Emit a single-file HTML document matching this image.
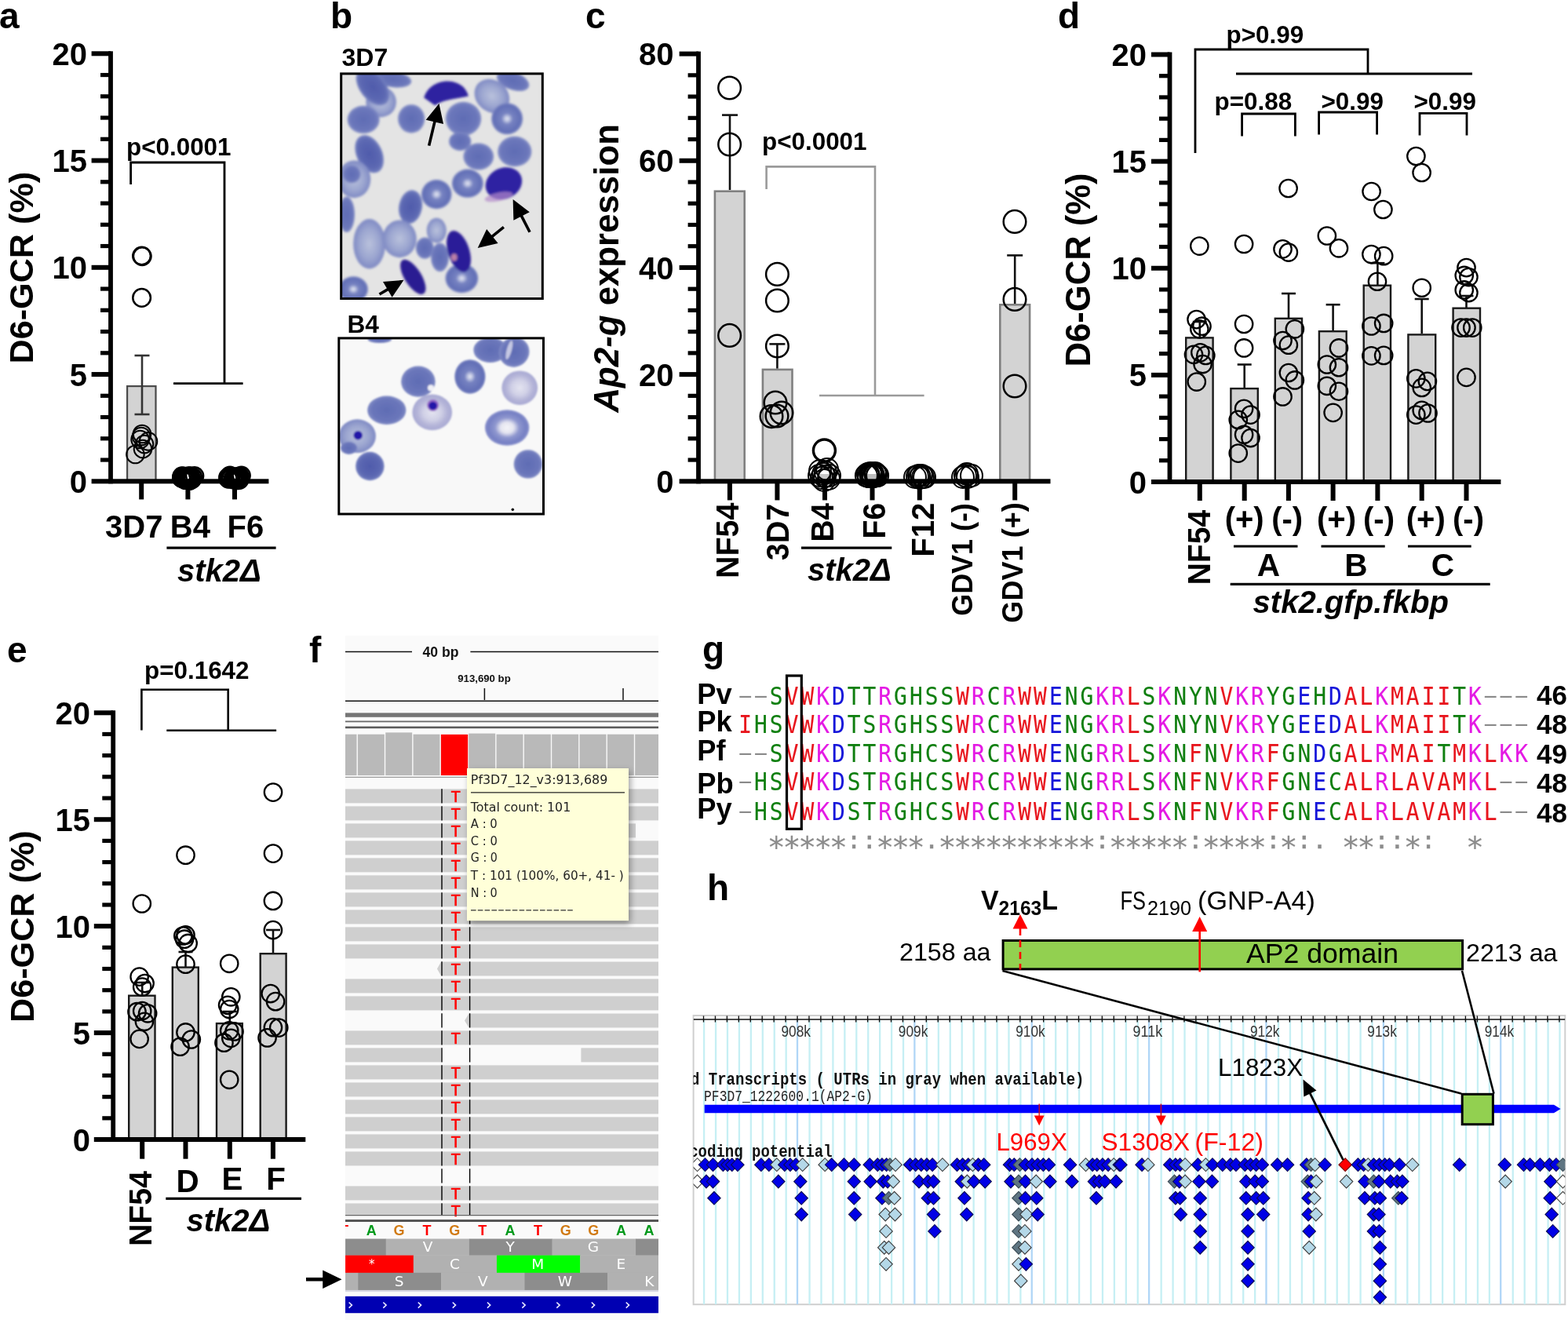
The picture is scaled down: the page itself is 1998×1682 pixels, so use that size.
<!DOCTYPE html>
<html><head><meta charset="utf-8"><title>Figure</title>
<style>html,body{margin:0;padding:0;background:#fff;overflow:hidden;width:1998px;height:1682px}svg{display:block}text{white-space:pre}</style></head><body>
<svg width="1998" height="1682" viewBox="0 0 1998 1682">
<rect width="1998" height="1682" fill="#fff"/>
<defs>
<filter id="bl1" x="-20%" y="-20%" width="140%" height="140%"><feGaussianBlur stdDeviation="1.4"/></filter>
<filter id="bl2" x="-20%" y="-20%" width="140%" height="140%"><feGaussianBlur stdDeviation="1.3"/></filter>
<clipPath id="cp1"><rect x="434.7" y="93.9" width="256.6" height="286.6"/></clipPath>
<clipPath id="cp2"><rect x="431.8" y="430.9" width="260.7" height="224.1"/></clipPath>
<radialGradient id="gRing"><stop offset="0" stop-color="#e8eaf4"/><stop offset="0.14" stop-color="#c2c8e3"/><stop offset="0.36" stop-color="#7682c1"/><stop offset="0.85" stop-color="#626fb6"/><stop offset="1" stop-color="#7a85c2"/></radialGradient>
<radialGradient id="gRing2"><stop offset="0" stop-color="#f4f4f8"/><stop offset="0.3" stop-color="#e4e4f0"/><stop offset="0.55" stop-color="#8f97cf"/><stop offset="0.85" stop-color="#7680c4"/><stop offset="1" stop-color="#8890cc"/></radialGradient>
<radialGradient id="gPale"><stop offset="0" stop-color="#e4e4f0"/><stop offset="0.45" stop-color="#d0d0e6"/><stop offset="0.75" stop-color="#b4b4d8"/><stop offset="1" stop-color="#a8a9d3"/></radialGradient>
<radialGradient id="gSolid"><stop offset="0" stop-color="#5f6cb4"/><stop offset="0.75" stop-color="#6a76ba"/><stop offset="1" stop-color="#7e89c4"/></radialGradient>
<radialGradient id="gSolidD"><stop offset="0" stop-color="#4f5bab"/><stop offset="0.75" stop-color="#5c68b2"/><stop offset="1" stop-color="#7480c0"/></radialGradient>
<radialGradient id="gLight"><stop offset="0" stop-color="#b9c1dc"/><stop offset="0.6" stop-color="#9ca6d0"/><stop offset="1" stop-color="#7f8ac4"/></radialGradient>
<radialGradient id="gGam"><stop offset="0" stop-color="#3a1f86"/><stop offset="0.6" stop-color="#2f22a2"/><stop offset="1" stop-color="#3a2fb0"/></radialGradient>
</defs>
<text font-family='"Liberation Sans", Arial, sans-serif' font-size="32" font-weight="bold" x="435.5" y="84">3D7</text>
<rect x="433.2" y="92.4" width="259.6" height="289.6" fill="#e4e4e4"/>
<g clip-path="url(#cp1)"><g filter="url(#bl1)">
<ellipse cx="500.6" cy="101" rx="23.82" ry="10.21" fill="url(#gSolid)" transform="rotate(8 500.6 101)"/>
<ellipse cx="653.64" cy="103.14" rx="21.55" ry="11.34" fill="url(#gSolid)" transform="rotate(20 653.64 103.14)"/>
<ellipse cx="485.62" cy="129.9" rx="19.29" ry="19.29" fill="url(#gLight)" transform="rotate(-30 485.62 129.9)"/>
<ellipse cx="474.91" cy="110.63" rx="16.34" ry="27.23" fill="url(#gSolidD)" transform="rotate(-38 474.91 110.63)"/>
<ellipse cx="626.88" cy="122.41" rx="23.82" ry="19.97" fill="url(#gLight)" transform="rotate(40 626.88 122.41)"/>
<ellipse cx="463.14" cy="152.37" rx="20.42" ry="17.7" fill="url(#gSolid)"/>
<ellipse cx="524.14" cy="151.3" rx="17.02" ry="18.15" fill="url(#gSolid)"/>
<ellipse cx="590.5" cy="151.3" rx="22.69" ry="21.55" fill="url(#gSolid)"/>
<ellipse cx="646.15" cy="151.3" rx="19.97" ry="19.97" fill="url(#gRing)"/>
<ellipse cx="470.63" cy="196.25" rx="16.34" ry="25.41" fill="url(#gSolidD)" transform="rotate(-25 470.63 196.25)"/>
<ellipse cx="586.22" cy="180.2" rx="14.07" ry="11.8" fill="url(#gSolid)"/>
<ellipse cx="609.76" cy="199.46" rx="19.29" ry="17.02" fill="url(#gSolid)"/>
<ellipse cx="655.78" cy="193.04" rx="21.55" ry="19.29" fill="url(#gSolid)"/>
<ellipse cx="451.37" cy="228.36" rx="20.87" ry="23.82" fill="url(#gLight)"/>
<ellipse cx="448.16" cy="221.93" rx="11.34" ry="11.34" fill="url(#gSolid)"/>
<ellipse cx="595.85" cy="233.71" rx="19.97" ry="18.15" fill="url(#gRing)"/>
<ellipse cx="556.25" cy="247.62" rx="19.29" ry="18.6" fill="url(#gRing)"/>
<ellipse cx="523.07" cy="263.67" rx="14.75" ry="21.55" fill="url(#gSolidD)" transform="rotate(10 523.07 263.67)"/>
<ellipse cx="441.74" cy="273.3" rx="10.21" ry="22.69" fill="url(#gSolid)"/>
<ellipse cx="470.63" cy="310.76" rx="20.42" ry="31.76" fill="url(#gLight)"/>
<ellipse cx="509.16" cy="304.34" rx="21.55" ry="23.82" fill="url(#gLight)"/>
<ellipse cx="556.25" cy="293.64" rx="12.48" ry="15.88" fill="url(#gLight)"/>
<ellipse cx="541.27" cy="316.11" rx="11.34" ry="13.61" fill="url(#gSolid)"/>
<ellipse cx="560.53" cy="327.89" rx="11.34" ry="18.15" fill="url(#gSolid)"/>
<ellipse cx="588.36" cy="354.64" rx="20.87" ry="18.6" fill="url(#gRing)"/>
<ellipse cx="450.3" cy="368.55" rx="18.6" ry="16.34" fill="url(#gRing)"/>
<path d="M540.2 124.55 C547.69 97.79 590.5 95.65 596.92 122.41 C584.08 125.62 566.95 125.62 554.11 134.18 Z" fill="#2e22a0"/>
<ellipse cx="641.87" cy="233.71" rx="23.97" ry="19.69" fill="#2f23a2" transform="rotate(-25 641.87 233.71)"/>
<ellipse cx="635.45" cy="250.83" rx="18.19" ry="5.35" fill="#b48acb" transform="rotate(-12 635.45 250.83)" opacity="0.7"/>
<ellipse cx="584.5" cy="320.39" rx="13.7" ry="27.4" fill="#2c1f98" transform="rotate(-18 584.5 320.39)"/>
<ellipse cx="578.72" cy="327.89" rx="3.85" ry="4.71" fill="#c98aa8" opacity="0.9"/>
<ellipse cx="526.28" cy="352.93" rx="10.7" ry="25.26" fill="#2a1c92" transform="rotate(-32 526.28 352.93)"/>
</g></g>
<rect x="434.7" y="93.9" width="256.6" height="286.6" fill="none" stroke="#000" stroke-width="3"/>
<line x1="546.62" y1="185.55" x2="554.33" y2="153.43" stroke="#000" stroke-width="3.6"/>
<polygon points="559.46,132.04 565.04,158.06 542.68,152.69" fill="#000"/>
<line x1="675.04" y1="295.78" x2="663.68" y2="273.62" stroke="#000" stroke-width="3.6"/>
<polygon points="653.64,254.04 674.82,270.15 654.36,280.64" fill="#000"/>
<line x1="641.87" y1="289.36" x2="625.82" y2="302.3" stroke="#000" stroke-width="3.6"/>
<polygon points="608.69,316.11 620.15,292.1 634.59,310" fill="#000"/>
<line x1="483.48" y1="374.97" x2="495.53" y2="367.91" stroke="#000" stroke-width="3.6"/>
<polygon points="514.51,356.78 499.62,378.84 487.99,359" fill="#000"/>
<text font-family='"Liberation Sans", Arial, sans-serif' font-size="31.6" font-weight="bold" x="442.5" y="423.8">B4</text>
<rect x="430.3" y="429.4" width="263.7" height="227.1" fill="#f8f8f8"/>
<g clip-path="url(#cp2)"><g filter="url(#bl2)">
<ellipse cx="483.84" cy="432.62" rx="15.16" ry="4.46" fill="url(#gSolid)"/>
<ellipse cx="624.76" cy="446" rx="21.41" ry="16.05" fill="url(#gSolid)"/>
<ellipse cx="655.08" cy="448.68" rx="19.62" ry="18.73" fill="url(#gSolid)" transform="rotate(-30 655.08 448.68)"/>
<ellipse cx="532.89" cy="486.14" rx="21.76" ry="19.62" fill="url(#gSolid)"/>
<ellipse cx="598.89" cy="479.89" rx="19.62" ry="21.76" fill="url(#gRing)"/>
<ellipse cx="662.22" cy="494.16" rx="22.83" ry="21.76" fill="url(#gPale)"/>
<ellipse cx="492.76" cy="522.7" rx="24.62" ry="18.19" fill="url(#gSolid)"/>
<ellipse cx="550.73" cy="525.38" rx="25.33" ry="22.83" fill="url(#gPale)"/>
<ellipse cx="646.16" cy="545" rx="28.18" ry="22.83" fill="url(#gRing2)"/>
<ellipse cx="455.3" cy="555.7" rx="23.55" ry="21.41" fill="url(#gLight)"/>
<ellipse cx="444.6" cy="570.87" rx="10.7" ry="8.03" fill="url(#gSolid)"/>
<ellipse cx="471.35" cy="594.06" rx="18.19" ry="18.19" fill="url(#gSolidD)"/>
<ellipse cx="672.92" cy="591.38" rx="18.19" ry="18.19" fill="url(#gSolid)"/>
<ellipse cx="648.84" cy="446" rx="3.21" ry="12.49" fill="#cfd2e8" transform="rotate(15 648.84 446)" opacity="0.9"/>
<ellipse cx="551.62" cy="516.46" rx="7.49" ry="7.49" fill="#8a4fc0" opacity="0.8"/>
<ellipse cx="551.62" cy="517" rx="5.35" ry="5.35" fill="#2416a8"/>
<ellipse cx="456.19" cy="554.81" rx="5.71" ry="5.71" fill="#2416a8"/>
<ellipse cx="548.95" cy="494.16" rx="3.92" ry="3.92" fill="#f0f0f6"/>
</g>
<ellipse cx="653.3" cy="649.35" rx="1.78" ry="1.78" fill="#111"/>
</g>
<rect x="431.8" y="430.9" width="260.7" height="224.1" fill="none" stroke="#000" stroke-width="3"/>
<text font-family='"Liberation Sans", Arial, sans-serif' font-size="46" font-weight="bold" x="421" y="35.5">b</text>
<g id="pf">
<defs><clipPath id="cpf"><rect x="440" y="808" width="399" height="874"/></clipPath>
<filter id="sh" x="-10%" y="-10%" width="125%" height="125%"><feGaussianBlur stdDeviation="4"/></filter></defs>
<rect x="440" y="810" width="399" height="872" fill="#fafafa"/>
<g clip-path="url(#cpf)">
<line x1="440" y1="830.5" x2="525" y2="830.5" stroke="#111" stroke-width="1.6"/>
<line x1="599.4" y1="830.5" x2="839" y2="830.5" stroke="#111" stroke-width="1.6"/>
<text font-family='"Liberation Sans", Arial, sans-serif' font-size="17.6" font-weight="bold" text-anchor="middle" fill="#111" x="561.5" y="837.3">40 bp</text>
<text font-family='"Liberation Sans", Arial, sans-serif' font-size="13.2" font-weight="bold" text-anchor="middle" fill="#111" x="617" y="869.2">913,690 bp</text>
<line x1="617.4" y1="877" x2="617.4" y2="892" stroke="#111" stroke-width="1.5"/>
<line x1="794" y1="877" x2="794" y2="892" stroke="#111" stroke-width="1.5"/>
<line x1="440" y1="893.2" x2="839" y2="893.2" stroke="#111" stroke-width="1.6"/>
<rect x="440" y="908.4" width="399" height="5.4" fill="#757575"/>
<rect x="440" y="918.5" width="399" height="1.8" fill="#6a6a6a"/>
<rect x="440" y="925.6" width="399" height="2.6" fill="#5a5a5a"/>
<rect x="385.25" y="935.7" width="33.93" height="52.3" fill="#b9b9b9"/>
<rect x="420.58" y="935.7" width="33.93" height="52.3" fill="#b9b9b9"/>
<rect x="455.91" y="935.7" width="33.93" height="52.3" fill="#b9b9b9"/>
<rect x="491.24" y="933.4" width="33.93" height="54.6" fill="#b9b9b9"/>
<rect x="526.57" y="935.7" width="33.93" height="52.3" fill="#b9b9b9"/>
<rect x="561.9" y="935.9" width="34.3" height="52.1" fill="#ff0000"/>
<rect x="597.23" y="934.6" width="33.93" height="53.4" fill="#b9b9b9"/>
<rect x="632.56" y="935.7" width="33.93" height="52.3" fill="#b9b9b9"/>
<rect x="667.89" y="935.7" width="33.93" height="52.3" fill="#b9b9b9"/>
<rect x="703.22" y="935.7" width="33.93" height="52.3" fill="#b9b9b9"/>
<rect x="738.55" y="935.7" width="33.93" height="52.3" fill="#b9b9b9"/>
<rect x="773.88" y="935.7" width="33.93" height="52.3" fill="#b9b9b9"/>
<rect x="809.21" y="935.7" width="33.93" height="52.3" fill="#b9b9b9"/>
<line x1="440" y1="990.4" x2="839" y2="990.4" stroke="#9a9a9a" stroke-width="1.4"/>
<rect x="440" y="1005.4" width="399" height="18" fill="#cfcfcf"/>
<text font-family='"Liberation Sans", Arial, sans-serif' font-size="19.5" font-weight="normal" text-anchor="middle" fill="#ff0000" x="580.8" y="1021.8" stroke="#ff0000" stroke-width="0.7">T</text>
<rect x="440" y="1027.4" width="399" height="18" fill="#cfcfcf"/>
<text font-family='"Liberation Sans", Arial, sans-serif' font-size="19.5" font-weight="normal" text-anchor="middle" fill="#ff0000" x="580.8" y="1043.8" stroke="#ff0000" stroke-width="0.7">T</text>
<rect x="440" y="1049.4" width="370" height="18" fill="#cfcfcf"/>
<text font-family='"Liberation Sans", Arial, sans-serif' font-size="19.5" font-weight="normal" text-anchor="middle" fill="#ff0000" x="580.8" y="1065.8" stroke="#ff0000" stroke-width="0.7">T</text>
<rect x="440" y="1071.4" width="399" height="18" fill="#cfcfcf"/>
<text font-family='"Liberation Sans", Arial, sans-serif' font-size="19.5" font-weight="normal" text-anchor="middle" fill="#ff0000" x="580.8" y="1087.8" stroke="#ff0000" stroke-width="0.7">T</text>
<rect x="440" y="1093.4" width="399" height="18" fill="#cfcfcf"/>
<text font-family='"Liberation Sans", Arial, sans-serif' font-size="19.5" font-weight="normal" text-anchor="middle" fill="#ff0000" x="580.8" y="1109.8" stroke="#ff0000" stroke-width="0.7">T</text>
<rect x="440" y="1115.4" width="399" height="18" fill="#cfcfcf"/>
<text font-family='"Liberation Sans", Arial, sans-serif' font-size="19.5" font-weight="normal" text-anchor="middle" fill="#ff0000" x="580.8" y="1131.8" stroke="#ff0000" stroke-width="0.7">T</text>
<rect x="440" y="1137.4" width="399" height="18" fill="#cfcfcf"/>
<text font-family='"Liberation Sans", Arial, sans-serif' font-size="19.5" font-weight="normal" text-anchor="middle" fill="#ff0000" x="580.8" y="1153.8" stroke="#ff0000" stroke-width="0.7">T</text>
<rect x="440" y="1159.4" width="399" height="18" fill="#cfcfcf"/>
<text font-family='"Liberation Sans", Arial, sans-serif' font-size="19.5" font-weight="normal" text-anchor="middle" fill="#ff0000" x="580.8" y="1175.8" stroke="#ff0000" stroke-width="0.7">T</text>
<rect x="440" y="1181.4" width="399" height="18" fill="#cfcfcf"/>
<text font-family='"Liberation Sans", Arial, sans-serif' font-size="19.5" font-weight="normal" text-anchor="middle" fill="#ff0000" x="580.8" y="1197.8" stroke="#ff0000" stroke-width="0.7">T</text>
<rect x="440" y="1203.4" width="399" height="18" fill="#cfcfcf"/>
<text font-family='"Liberation Sans", Arial, sans-serif' font-size="19.5" font-weight="normal" text-anchor="middle" fill="#ff0000" x="580.8" y="1219.8" stroke="#ff0000" stroke-width="0.7">T</text>
<polygon points="557,1234.4 562,1225.4 839,1225.4 839,1243.4 562,1243.4" fill="#cfcfcf"/>
<text font-family='"Liberation Sans", Arial, sans-serif' font-size="19.5" font-weight="normal" text-anchor="middle" fill="#ff0000" x="580.8" y="1241.8" stroke="#ff0000" stroke-width="0.7">T</text>
<rect x="440" y="1247.4" width="399" height="18" fill="#cfcfcf"/>
<text font-family='"Liberation Sans", Arial, sans-serif' font-size="19.5" font-weight="normal" text-anchor="middle" fill="#ff0000" x="580.8" y="1263.8" stroke="#ff0000" stroke-width="0.7">T</text>
<rect x="440" y="1269.4" width="399" height="18" fill="#cfcfcf"/>
<text font-family='"Liberation Sans", Arial, sans-serif' font-size="19.5" font-weight="normal" text-anchor="middle" fill="#ff0000" x="580.8" y="1285.8" stroke="#ff0000" stroke-width="0.7">T</text>
<polygon points="592,1300.4 597.5,1291.4 839,1291.4 839,1309.4 597.5,1309.4" fill="#cfcfcf"/>
<rect x="440" y="1313.4" width="399" height="18" fill="#cfcfcf"/>
<text font-family='"Liberation Sans", Arial, sans-serif' font-size="19.5" font-weight="normal" text-anchor="middle" fill="#ff0000" x="580.8" y="1329.8" stroke="#ff0000" stroke-width="0.7">T</text>
<rect x="440" y="1335.4" width="122" height="18" fill="#cfcfcf"/>
<rect x="740.4" y="1335.4" width="98.6" height="18" fill="#cfcfcf"/>
<rect x="440" y="1357.4" width="399" height="18" fill="#cfcfcf"/>
<text font-family='"Liberation Sans", Arial, sans-serif' font-size="19.5" font-weight="normal" text-anchor="middle" fill="#ff0000" x="580.8" y="1373.8" stroke="#ff0000" stroke-width="0.7">T</text>
<rect x="440" y="1379.4" width="399" height="18" fill="#cfcfcf"/>
<text font-family='"Liberation Sans", Arial, sans-serif' font-size="19.5" font-weight="normal" text-anchor="middle" fill="#ff0000" x="580.8" y="1395.8" stroke="#ff0000" stroke-width="0.7">T</text>
<rect x="440" y="1401.4" width="399" height="18" fill="#cfcfcf"/>
<text font-family='"Liberation Sans", Arial, sans-serif' font-size="19.5" font-weight="normal" text-anchor="middle" fill="#ff0000" x="580.8" y="1417.8" stroke="#ff0000" stroke-width="0.7">T</text>
<rect x="440" y="1423.4" width="399" height="18" fill="#cfcfcf"/>
<text font-family='"Liberation Sans", Arial, sans-serif' font-size="19.5" font-weight="normal" text-anchor="middle" fill="#ff0000" x="580.8" y="1439.8" stroke="#ff0000" stroke-width="0.7">T</text>
<rect x="440" y="1445.4" width="399" height="18" fill="#cfcfcf"/>
<text font-family='"Liberation Sans", Arial, sans-serif' font-size="19.5" font-weight="normal" text-anchor="middle" fill="#ff0000" x="580.8" y="1461.8" stroke="#ff0000" stroke-width="0.7">T</text>
<rect x="440" y="1467.4" width="399" height="18" fill="#cfcfcf"/>
<text font-family='"Liberation Sans", Arial, sans-serif' font-size="19.5" font-weight="normal" text-anchor="middle" fill="#ff0000" x="580.8" y="1483.8" stroke="#ff0000" stroke-width="0.7">T</text>
<rect x="440" y="1511.4" width="399" height="18" fill="#cfcfcf"/>
<text font-family='"Liberation Sans", Arial, sans-serif' font-size="19.5" font-weight="normal" text-anchor="middle" fill="#ff0000" x="580.8" y="1527.8" stroke="#ff0000" stroke-width="0.7">T</text>
<rect x="440" y="1533.4" width="399" height="14.6" fill="#cfcfcf"/>
<text font-family='"Liberation Sans", Arial, sans-serif' font-size="19.5" font-weight="normal" text-anchor="middle" fill="#ff0000" x="580.8" y="1549.8" stroke="#ff0000" stroke-width="0.7">T</text>
<line x1="563" y1="1005.2" x2="563" y2="1548" stroke="#000" stroke-width="1.4" stroke-dasharray="18.4 3.6"/>
<line x1="598.6" y1="1005.2" x2="598.6" y2="1548" stroke="#000" stroke-width="1.4" stroke-dasharray="18.4 3.6"/>
<line x1="440" y1="1548.6" x2="839" y2="1548.6" stroke="#666" stroke-width="1.4"/>
<rect x="440" y="1554" width="399" height="3" fill="#555"/>
<text font-family='"Liberation Sans", Arial, sans-serif' font-size="18" font-weight="bold" text-anchor="middle" fill="#ff0000" x="438.5" y="1574.2">T</text>
<text font-family='"Liberation Sans", Arial, sans-serif' font-size="18" font-weight="bold" text-anchor="middle" fill="#00991a" x="473.2" y="1574.2">A</text>
<text font-family='"Liberation Sans", Arial, sans-serif' font-size="18" font-weight="bold" text-anchor="middle" fill="#d17a12" x="508.58" y="1574.2">G</text>
<text font-family='"Liberation Sans", Arial, sans-serif' font-size="18" font-weight="bold" text-anchor="middle" fill="#ff0000" x="543.96" y="1574.2">T</text>
<text font-family='"Liberation Sans", Arial, sans-serif' font-size="18" font-weight="bold" text-anchor="middle" fill="#d17a12" x="579.34" y="1574.2">G</text>
<text font-family='"Liberation Sans", Arial, sans-serif' font-size="18" font-weight="bold" text-anchor="middle" fill="#ff0000" x="614.72" y="1574.2">T</text>
<text font-family='"Liberation Sans", Arial, sans-serif' font-size="18" font-weight="bold" text-anchor="middle" fill="#00991a" x="650.1" y="1574.2">A</text>
<text font-family='"Liberation Sans", Arial, sans-serif' font-size="18" font-weight="bold" text-anchor="middle" fill="#ff0000" x="685.48" y="1574.2">T</text>
<text font-family='"Liberation Sans", Arial, sans-serif' font-size="18" font-weight="bold" text-anchor="middle" fill="#d17a12" x="720.86" y="1574.2">G</text>
<text font-family='"Liberation Sans", Arial, sans-serif' font-size="18" font-weight="bold" text-anchor="middle" fill="#d17a12" x="756.24" y="1574.2">G</text>
<text font-family='"Liberation Sans", Arial, sans-serif' font-size="18" font-weight="bold" text-anchor="middle" fill="#00991a" x="791.62" y="1574.2">A</text>
<text font-family='"Liberation Sans", Arial, sans-serif' font-size="18" font-weight="bold" text-anchor="middle" fill="#00991a" x="827" y="1574.2">A</text>
<rect x="440.06" y="1578.5" width="51.95" height="21.4" fill="#8d8d8d"/>
<rect x="491.71" y="1578.5" width="106.49" height="21.4" fill="#b1b1b1"/>
<rect x="597.9" y="1578.5" width="106.01" height="21.4" fill="#8d8d8d"/>
<rect x="703.6" y="1578.5" width="106.73" height="21.4" fill="#b1b1b1"/>
<rect x="810.03" y="1578.5" width="29.13" height="21.4" fill="#8d8d8d"/>
<text font-family='"DejaVu Sans", "Liberation Sans", sans-serif' font-size="18.5" font-weight="normal" text-anchor="middle" fill="#fff" x="545.05" y="1595">V</text>
<text font-family='"DejaVu Sans", "Liberation Sans", sans-serif' font-size="18.5" font-weight="normal" text-anchor="middle" fill="#fff" x="650.27" y="1595">Y</text>
<text font-family='"DejaVu Sans", "Liberation Sans", sans-serif' font-size="18.5" font-weight="normal" text-anchor="middle" fill="#fff" x="755.98" y="1595">G</text>
<rect x="440.06" y="1599.6" width="87.03" height="22.5" fill="#ff0000"/>
<rect x="526.79" y="1599.6" width="106.49" height="22.5" fill="#b1b1b1"/>
<rect x="632.97" y="1599.6" width="106.49" height="22.5" fill="#00ff00"/>
<rect x="739.16" y="1599.6" width="100" height="22.5" fill="#b1b1b1"/>
<text font-family='"DejaVu Sans", "Liberation Sans", sans-serif' font-size="15" font-weight="normal" text-anchor="middle" fill="#fff" x="473.69" y="1616.3">*</text>
<text font-family='"DejaVu Sans", "Liberation Sans", sans-serif' font-size="18.5" font-weight="normal" text-anchor="middle" fill="#fff" x="579.4" y="1617.2">C</text>
<text font-family='"DejaVu Sans", "Liberation Sans", sans-serif' font-size="18.5" font-weight="normal" text-anchor="middle" fill="#fff" x="685.11" y="1617.2">M</text>
<text font-family='"DejaVu Sans", "Liberation Sans", sans-serif' font-size="18.5" font-weight="normal" text-anchor="middle" fill="#fff" x="791.29" y="1617.2">E</text>
<rect x="440.06" y="1621.8" width="16.4" height="22.4" fill="#b1b1b1"/>
<rect x="456.16" y="1621.8" width="106.25" height="22.4" fill="#8d8d8d"/>
<rect x="562.1" y="1621.8" width="106.49" height="22.4" fill="#b1b1b1"/>
<rect x="668.29" y="1621.8" width="106.01" height="22.4" fill="#8d8d8d"/>
<rect x="773.99" y="1621.8" width="65.16" height="22.4" fill="#b1b1b1"/>
<text font-family='"DejaVu Sans", "Liberation Sans", sans-serif' font-size="18.5" font-weight="normal" text-anchor="middle" fill="#fff" x="508.53" y="1639.3">S</text>
<text font-family='"DejaVu Sans", "Liberation Sans", sans-serif' font-size="18.5" font-weight="normal" text-anchor="middle" fill="#fff" x="615.44" y="1639.3">V</text>
<text font-family='"DejaVu Sans", "Liberation Sans", sans-serif' font-size="18.5" font-weight="normal" text-anchor="middle" fill="#fff" x="719.94" y="1639.3">W</text>
<text font-family='"DejaVu Sans", "Liberation Sans", sans-serif' font-size="18.5" font-weight="normal" text-anchor="middle" fill="#fff" x="827.33" y="1639.3">K</text>
<rect x="440" y="1643.9" width="399" height="2.2" fill="#d8d8e4"/>
<rect x="440" y="1651.8" width="399" height="21.4" fill="#0000b2"/>
<path d="M444.59 1659.48 L448.39 1663.08 L444.59 1666.68" fill="none" stroke="#e8e8ff" stroke-width="1.6"/>
<path d="M488.31 1659.48 L492.11 1663.08 L488.31 1666.68" fill="none" stroke="#e8e8ff" stroke-width="1.6"/>
<path d="M532.75 1659.48 L536.55 1663.08 L532.75 1666.68" fill="none" stroke="#e8e8ff" stroke-width="1.6"/>
<path d="M576.72 1659.48 L580.52 1663.08 L576.72 1666.68" fill="none" stroke="#e8e8ff" stroke-width="1.6"/>
<path d="M620.92 1659.48 L624.72 1663.08 L620.92 1666.68" fill="none" stroke="#e8e8ff" stroke-width="1.6"/>
<path d="M665.37 1659.48 L669.17 1663.08 L665.37 1666.68" fill="none" stroke="#e8e8ff" stroke-width="1.6"/>
<path d="M709.33 1659.48 L713.13 1663.08 L709.33 1666.68" fill="none" stroke="#e8e8ff" stroke-width="1.6"/>
<path d="M753.78 1659.48 L757.58 1663.08 L753.78 1666.68" fill="none" stroke="#e8e8ff" stroke-width="1.6"/>
<path d="M797.74 1659.48 L801.54 1663.08 L797.74 1666.68" fill="none" stroke="#e8e8ff" stroke-width="1.6"/>
<rect x="598" y="983" width="205" height="194" fill="#000" opacity="0.38" filter="url(#sh)"/>
<rect x="595" y="979" width="206" height="194.2" fill="#ffffd9"/>
<text font-family='"DejaVu Sans", "Liberation Sans", sans-serif' font-size="15.2" font-weight="normal" fill="#222" textLength="174.5" lengthAdjust="spacingAndGlyphs" x="599.8" y="999">Pf3D7_12_v3:913,689</text>
<line x1="600" y1="1009.8" x2="796" y2="1009.8" stroke="#222" stroke-width="1.3"/>
<text font-family='"DejaVu Sans", "Liberation Sans", sans-serif' font-size="15.2" font-weight="normal" fill="#222" textLength="127.5" lengthAdjust="spacingAndGlyphs" x="599.8" y="1033.5">Total count: 101</text>
<text font-family='"DejaVu Sans", "Liberation Sans", sans-serif' font-size="15.2" font-weight="normal" fill="#222" textLength="34" lengthAdjust="spacingAndGlyphs" x="599.8" y="1055">A : 0</text>
<text font-family='"DejaVu Sans", "Liberation Sans", sans-serif' font-size="15.2" font-weight="normal" fill="#222" textLength="34" lengthAdjust="spacingAndGlyphs" x="599.8" y="1076.7">C : 0</text>
<text font-family='"DejaVu Sans", "Liberation Sans", sans-serif' font-size="15.2" font-weight="normal" fill="#222" textLength="34" lengthAdjust="spacingAndGlyphs" x="599.8" y="1098.4">G : 0</text>
<text font-family='"DejaVu Sans", "Liberation Sans", sans-serif' font-size="15.2" font-weight="normal" fill="#222" textLength="195" lengthAdjust="spacingAndGlyphs" x="599.8" y="1121.3">T : 101 (100%, 60+, 41- )</text>
<text font-family='"DejaVu Sans", "Liberation Sans", sans-serif' font-size="15.2" font-weight="normal" fill="#222" textLength="34" lengthAdjust="spacingAndGlyphs" x="599.8" y="1143">N : 0</text>
<line x1="600" y1="1159.8" x2="731" y2="1159.8" stroke="#333" stroke-width="1.2" stroke-dasharray="6.6 2.2"/>
</g>
<text font-family='"Liberation Sans", Arial, sans-serif' font-size="46" font-weight="bold" x="394" y="844">f</text>
<line x1="390" y1="1630.2" x2="414" y2="1630.2" stroke="#000" stroke-width="4.6"/>
<polygon points="411.2,1618.4 435.5,1630.2 411.2,1642" fill="#000"/>
</g>
<g id="pg">
<text font-family='"Liberation Sans", Arial, sans-serif' font-size="46" font-weight="bold" x="895" y="842.8">g</text>
<text font-family='"Liberation Sans", Arial, sans-serif' font-size="36.3" font-weight="bold" x="888.3" y="897">Pv</text>
<text y="897.7" font-family='"DejaVu Sans Mono", "Liberation Mono", monospace' font-size="32.4" text-anchor="middle" stroke-width="0.15" transform="scale(0.86,1)"><tspan x="1150.3" fill="#0f7f0f" stroke="#0f7f0f">S</tspan><tspan x="1173.3 1196.3" fill="#e8141c" stroke="#e8141c">VW</tspan><tspan x="1219.3" fill="#e41ae4" stroke="#e41ae4">K</tspan><tspan x="1242.3" fill="#1616da" stroke="#1616da">D</tspan><tspan x="1265.3 1288.3" fill="#0f7f0f" stroke="#0f7f0f">TT</tspan><tspan x="1311.3" fill="#e41ae4" stroke="#e41ae4">R</tspan><tspan x="1334.3 1357.3 1380.3 1403.3" fill="#0f7f0f" stroke="#0f7f0f">GHSS</tspan><tspan x="1426.3" fill="#e8141c" stroke="#e8141c">W</tspan><tspan x="1449.3" fill="#e41ae4" stroke="#e41ae4">R</tspan><tspan x="1472.3" fill="#0f7f0f" stroke="#0f7f0f">C</tspan><tspan x="1495.3" fill="#e41ae4" stroke="#e41ae4">R</tspan><tspan x="1518.3 1541.3" fill="#e8141c" stroke="#e8141c">WW</tspan><tspan x="1564.3" fill="#1616da" stroke="#1616da">E</tspan><tspan x="1587.3 1610.3" fill="#0f7f0f" stroke="#0f7f0f">NG</tspan><tspan x="1633.3 1656.3" fill="#e41ae4" stroke="#e41ae4">KR</tspan><tspan x="1679.3" fill="#e8141c" stroke="#e8141c">L</tspan><tspan x="1702.3" fill="#0f7f0f" stroke="#0f7f0f">S</tspan><tspan x="1725.3" fill="#e41ae4" stroke="#e41ae4">K</tspan><tspan x="1748.3 1771.3 1794.3" fill="#0f7f0f" stroke="#0f7f0f">NYN</tspan><tspan x="1817.3" fill="#e8141c" stroke="#e8141c">V</tspan><tspan x="1840.3 1863.3" fill="#e41ae4" stroke="#e41ae4">KR</tspan><tspan x="1886.3 1909.3" fill="#0f7f0f" stroke="#0f7f0f">YG</tspan><tspan x="1932.3" fill="#1616da" stroke="#1616da">E</tspan><tspan x="1955.3" fill="#0f7f0f" stroke="#0f7f0f">H</tspan><tspan x="1978.3" fill="#1616da" stroke="#1616da">D</tspan><tspan x="2001.3 2024.3" fill="#e8141c" stroke="#e8141c">AL</tspan><tspan x="2047.3" fill="#e41ae4" stroke="#e41ae4">K</tspan><tspan x="2070.3 2093.3 2116.3 2139.3" fill="#e8141c" stroke="#e8141c">MAII</tspan><tspan x="2162.3" fill="#0f7f0f" stroke="#0f7f0f">T</tspan><tspan x="2185.3" fill="#e41ae4" stroke="#e41ae4">K</tspan></text>
<text y="894.7" font-family='"DejaVu Sans Mono", "Liberation Mono", monospace' font-size="27" text-anchor="middle" stroke-width="0" transform="scale(2.15,1)"><tspan x="441.72 450.92" fill="#8a8a8a" stroke="#8a8a8a">--</tspan><tspan x="883.32 892.52 901.72" fill="#8a8a8a" stroke="#8a8a8a">---</tspan></text>
<text font-family='"Liberation Sans", Arial, sans-serif' font-size="35" font-weight="bold" x="1958" y="897.5">46</text>
<text font-family='"Liberation Sans", Arial, sans-serif' font-size="36.3" font-weight="bold" x="888.3" y="931.8">Pk</text>
<text y="934.2" font-family='"DejaVu Sans Mono", "Liberation Mono", monospace' font-size="32.4" text-anchor="middle" stroke-width="0.15" transform="scale(0.86,1)"><tspan x="1104.3" fill="#e8141c" stroke="#e8141c">I</tspan><tspan x="1127.3 1150.3" fill="#0f7f0f" stroke="#0f7f0f">HS</tspan><tspan x="1173.3 1196.3" fill="#e8141c" stroke="#e8141c">VW</tspan><tspan x="1219.3" fill="#e41ae4" stroke="#e41ae4">K</tspan><tspan x="1242.3" fill="#1616da" stroke="#1616da">D</tspan><tspan x="1265.3 1288.3" fill="#0f7f0f" stroke="#0f7f0f">TS</tspan><tspan x="1311.3" fill="#e41ae4" stroke="#e41ae4">R</tspan><tspan x="1334.3 1357.3 1380.3 1403.3" fill="#0f7f0f" stroke="#0f7f0f">GHSS</tspan><tspan x="1426.3" fill="#e8141c" stroke="#e8141c">W</tspan><tspan x="1449.3" fill="#e41ae4" stroke="#e41ae4">R</tspan><tspan x="1472.3" fill="#0f7f0f" stroke="#0f7f0f">C</tspan><tspan x="1495.3" fill="#e41ae4" stroke="#e41ae4">R</tspan><tspan x="1518.3 1541.3" fill="#e8141c" stroke="#e8141c">WW</tspan><tspan x="1564.3" fill="#1616da" stroke="#1616da">E</tspan><tspan x="1587.3 1610.3" fill="#0f7f0f" stroke="#0f7f0f">NG</tspan><tspan x="1633.3 1656.3" fill="#e41ae4" stroke="#e41ae4">KR</tspan><tspan x="1679.3" fill="#e8141c" stroke="#e8141c">L</tspan><tspan x="1702.3" fill="#0f7f0f" stroke="#0f7f0f">S</tspan><tspan x="1725.3" fill="#e41ae4" stroke="#e41ae4">K</tspan><tspan x="1748.3 1771.3 1794.3" fill="#0f7f0f" stroke="#0f7f0f">NYN</tspan><tspan x="1817.3" fill="#e8141c" stroke="#e8141c">V</tspan><tspan x="1840.3 1863.3" fill="#e41ae4" stroke="#e41ae4">KR</tspan><tspan x="1886.3 1909.3" fill="#0f7f0f" stroke="#0f7f0f">YG</tspan><tspan x="1932.3 1955.3 1978.3" fill="#1616da" stroke="#1616da">EED</tspan><tspan x="2001.3 2024.3" fill="#e8141c" stroke="#e8141c">AL</tspan><tspan x="2047.3" fill="#e41ae4" stroke="#e41ae4">K</tspan><tspan x="2070.3 2093.3 2116.3 2139.3" fill="#e8141c" stroke="#e8141c">MAII</tspan><tspan x="2162.3" fill="#0f7f0f" stroke="#0f7f0f">T</tspan><tspan x="2185.3" fill="#e41ae4" stroke="#e41ae4">K</tspan></text>
<text y="931.2" font-family='"DejaVu Sans Mono", "Liberation Mono", monospace' font-size="27" text-anchor="middle" stroke-width="0" transform="scale(2.15,1)"><tspan x="883.32 892.52 901.72" fill="#8a8a8a" stroke="#8a8a8a">---</tspan></text>
<text font-family='"Liberation Sans", Arial, sans-serif' font-size="35" font-weight="bold" x="1958" y="934.5">48</text>
<text font-family='"Liberation Sans", Arial, sans-serif' font-size="36.3" font-weight="bold" x="888.3" y="968.9">Pf</text>
<text y="971.3" font-family='"DejaVu Sans Mono", "Liberation Mono", monospace' font-size="32.4" text-anchor="middle" stroke-width="0.15" transform="scale(0.86,1)"><tspan x="1150.3" fill="#0f7f0f" stroke="#0f7f0f">S</tspan><tspan x="1173.3 1196.3" fill="#e8141c" stroke="#e8141c">VW</tspan><tspan x="1219.3" fill="#e41ae4" stroke="#e41ae4">K</tspan><tspan x="1242.3" fill="#1616da" stroke="#1616da">D</tspan><tspan x="1265.3 1288.3" fill="#0f7f0f" stroke="#0f7f0f">TT</tspan><tspan x="1311.3" fill="#e41ae4" stroke="#e41ae4">R</tspan><tspan x="1334.3 1357.3 1380.3 1403.3" fill="#0f7f0f" stroke="#0f7f0f">GHCS</tspan><tspan x="1426.3" fill="#e8141c" stroke="#e8141c">W</tspan><tspan x="1449.3" fill="#e41ae4" stroke="#e41ae4">R</tspan><tspan x="1472.3" fill="#0f7f0f" stroke="#0f7f0f">C</tspan><tspan x="1495.3" fill="#e41ae4" stroke="#e41ae4">R</tspan><tspan x="1518.3 1541.3" fill="#e8141c" stroke="#e8141c">WW</tspan><tspan x="1564.3" fill="#1616da" stroke="#1616da">E</tspan><tspan x="1587.3 1610.3" fill="#0f7f0f" stroke="#0f7f0f">NG</tspan><tspan x="1633.3 1656.3" fill="#e41ae4" stroke="#e41ae4">RR</tspan><tspan x="1679.3" fill="#e8141c" stroke="#e8141c">L</tspan><tspan x="1702.3" fill="#0f7f0f" stroke="#0f7f0f">S</tspan><tspan x="1725.3" fill="#e41ae4" stroke="#e41ae4">K</tspan><tspan x="1748.3" fill="#0f7f0f" stroke="#0f7f0f">N</tspan><tspan x="1771.3" fill="#e8141c" stroke="#e8141c">F</tspan><tspan x="1794.3" fill="#0f7f0f" stroke="#0f7f0f">N</tspan><tspan x="1817.3" fill="#e8141c" stroke="#e8141c">V</tspan><tspan x="1840.3 1863.3" fill="#e41ae4" stroke="#e41ae4">KR</tspan><tspan x="1886.3" fill="#e8141c" stroke="#e8141c">F</tspan><tspan x="1909.3 1932.3" fill="#0f7f0f" stroke="#0f7f0f">GN</tspan><tspan x="1955.3" fill="#1616da" stroke="#1616da">D</tspan><tspan x="1978.3" fill="#0f7f0f" stroke="#0f7f0f">G</tspan><tspan x="2001.3 2024.3" fill="#e8141c" stroke="#e8141c">AL</tspan><tspan x="2047.3" fill="#e41ae4" stroke="#e41ae4">R</tspan><tspan x="2070.3 2093.3 2116.3" fill="#e8141c" stroke="#e8141c">MAI</tspan><tspan x="2139.3" fill="#0f7f0f" stroke="#0f7f0f">T</tspan><tspan x="2162.3" fill="#e8141c" stroke="#e8141c">M</tspan><tspan x="2185.3" fill="#e41ae4" stroke="#e41ae4">K</tspan><tspan x="2208.3" fill="#e8141c" stroke="#e8141c">L</tspan><tspan x="2231.3 2254.3" fill="#e41ae4" stroke="#e41ae4">KK</tspan></text>
<text y="968.3" font-family='"DejaVu Sans Mono", "Liberation Mono", monospace' font-size="27" text-anchor="middle" stroke-width="0" transform="scale(2.15,1)"><tspan x="441.72 450.92" fill="#8a8a8a" stroke="#8a8a8a">--</tspan></text>
<text font-family='"Liberation Sans", Arial, sans-serif' font-size="35" font-weight="bold" x="1958" y="972.6">49</text>
<text font-family='"Liberation Sans", Arial, sans-serif' font-size="36.3" font-weight="bold" x="888.3" y="1011.1">Pb</text>
<text y="1007.5" font-family='"DejaVu Sans Mono", "Liberation Mono", monospace' font-size="32.4" text-anchor="middle" stroke-width="0.15" transform="scale(0.86,1)"><tspan x="1127.3 1150.3" fill="#0f7f0f" stroke="#0f7f0f">HS</tspan><tspan x="1173.3 1196.3" fill="#e8141c" stroke="#e8141c">VW</tspan><tspan x="1219.3" fill="#e41ae4" stroke="#e41ae4">K</tspan><tspan x="1242.3" fill="#1616da" stroke="#1616da">D</tspan><tspan x="1265.3 1288.3" fill="#0f7f0f" stroke="#0f7f0f">ST</tspan><tspan x="1311.3" fill="#e41ae4" stroke="#e41ae4">R</tspan><tspan x="1334.3 1357.3 1380.3 1403.3" fill="#0f7f0f" stroke="#0f7f0f">GHCS</tspan><tspan x="1426.3" fill="#e8141c" stroke="#e8141c">W</tspan><tspan x="1449.3" fill="#e41ae4" stroke="#e41ae4">R</tspan><tspan x="1472.3" fill="#0f7f0f" stroke="#0f7f0f">C</tspan><tspan x="1495.3" fill="#e41ae4" stroke="#e41ae4">R</tspan><tspan x="1518.3 1541.3" fill="#e8141c" stroke="#e8141c">WW</tspan><tspan x="1564.3" fill="#1616da" stroke="#1616da">E</tspan><tspan x="1587.3 1610.3" fill="#0f7f0f" stroke="#0f7f0f">NG</tspan><tspan x="1633.3 1656.3" fill="#e41ae4" stroke="#e41ae4">RR</tspan><tspan x="1679.3" fill="#e8141c" stroke="#e8141c">L</tspan><tspan x="1702.3" fill="#0f7f0f" stroke="#0f7f0f">S</tspan><tspan x="1725.3" fill="#e41ae4" stroke="#e41ae4">K</tspan><tspan x="1748.3" fill="#0f7f0f" stroke="#0f7f0f">N</tspan><tspan x="1771.3" fill="#e8141c" stroke="#e8141c">F</tspan><tspan x="1794.3" fill="#0f7f0f" stroke="#0f7f0f">N</tspan><tspan x="1817.3" fill="#e8141c" stroke="#e8141c">V</tspan><tspan x="1840.3 1863.3" fill="#e41ae4" stroke="#e41ae4">KR</tspan><tspan x="1886.3" fill="#e8141c" stroke="#e8141c">F</tspan><tspan x="1909.3 1932.3" fill="#0f7f0f" stroke="#0f7f0f">GN</tspan><tspan x="1955.3" fill="#1616da" stroke="#1616da">E</tspan><tspan x="1978.3" fill="#0f7f0f" stroke="#0f7f0f">C</tspan><tspan x="2001.3 2024.3" fill="#e8141c" stroke="#e8141c">AL</tspan><tspan x="2047.3" fill="#e41ae4" stroke="#e41ae4">R</tspan><tspan x="2070.3 2093.3 2116.3 2139.3 2162.3" fill="#e8141c" stroke="#e8141c">LAVAM</tspan><tspan x="2185.3" fill="#e41ae4" stroke="#e41ae4">K</tspan><tspan x="2208.3" fill="#e8141c" stroke="#e8141c">L</tspan></text>
<text y="1004.5" font-family='"DejaVu Sans Mono", "Liberation Mono", monospace' font-size="27" text-anchor="middle" stroke-width="0" transform="scale(2.15,1)"><tspan x="441.72" fill="#8a8a8a" stroke="#8a8a8a">-</tspan><tspan x="892.52 901.72" fill="#8a8a8a" stroke="#8a8a8a">--</tspan></text>
<text font-family='"Liberation Sans", Arial, sans-serif' font-size="35" font-weight="bold" x="1958" y="1009.7">48</text>
<text font-family='"Liberation Sans", Arial, sans-serif' font-size="36.3" font-weight="bold" x="888.3" y="1042.5">Py</text>
<text y="1044.6" font-family='"DejaVu Sans Mono", "Liberation Mono", monospace' font-size="32.4" text-anchor="middle" stroke-width="0.15" transform="scale(0.86,1)"><tspan x="1127.3 1150.3" fill="#0f7f0f" stroke="#0f7f0f">HS</tspan><tspan x="1173.3 1196.3" fill="#e8141c" stroke="#e8141c">VW</tspan><tspan x="1219.3" fill="#e41ae4" stroke="#e41ae4">K</tspan><tspan x="1242.3" fill="#1616da" stroke="#1616da">D</tspan><tspan x="1265.3 1288.3" fill="#0f7f0f" stroke="#0f7f0f">ST</tspan><tspan x="1311.3" fill="#e41ae4" stroke="#e41ae4">R</tspan><tspan x="1334.3 1357.3 1380.3 1403.3" fill="#0f7f0f" stroke="#0f7f0f">GHCS</tspan><tspan x="1426.3" fill="#e8141c" stroke="#e8141c">W</tspan><tspan x="1449.3" fill="#e41ae4" stroke="#e41ae4">R</tspan><tspan x="1472.3" fill="#0f7f0f" stroke="#0f7f0f">C</tspan><tspan x="1495.3" fill="#e41ae4" stroke="#e41ae4">R</tspan><tspan x="1518.3 1541.3" fill="#e8141c" stroke="#e8141c">WW</tspan><tspan x="1564.3" fill="#1616da" stroke="#1616da">E</tspan><tspan x="1587.3 1610.3" fill="#0f7f0f" stroke="#0f7f0f">NG</tspan><tspan x="1633.3 1656.3" fill="#e41ae4" stroke="#e41ae4">RR</tspan><tspan x="1679.3" fill="#e8141c" stroke="#e8141c">L</tspan><tspan x="1702.3" fill="#0f7f0f" stroke="#0f7f0f">S</tspan><tspan x="1725.3" fill="#e41ae4" stroke="#e41ae4">K</tspan><tspan x="1748.3" fill="#0f7f0f" stroke="#0f7f0f">N</tspan><tspan x="1771.3" fill="#e8141c" stroke="#e8141c">F</tspan><tspan x="1794.3" fill="#0f7f0f" stroke="#0f7f0f">N</tspan><tspan x="1817.3" fill="#e8141c" stroke="#e8141c">V</tspan><tspan x="1840.3 1863.3" fill="#e41ae4" stroke="#e41ae4">KR</tspan><tspan x="1886.3" fill="#e8141c" stroke="#e8141c">F</tspan><tspan x="1909.3 1932.3" fill="#0f7f0f" stroke="#0f7f0f">GN</tspan><tspan x="1955.3" fill="#1616da" stroke="#1616da">E</tspan><tspan x="1978.3" fill="#0f7f0f" stroke="#0f7f0f">C</tspan><tspan x="2001.3 2024.3" fill="#e8141c" stroke="#e8141c">AL</tspan><tspan x="2047.3" fill="#e41ae4" stroke="#e41ae4">R</tspan><tspan x="2070.3 2093.3 2116.3 2139.3 2162.3" fill="#e8141c" stroke="#e8141c">LAVAM</tspan><tspan x="2185.3" fill="#e41ae4" stroke="#e41ae4">K</tspan><tspan x="2208.3" fill="#e8141c" stroke="#e8141c">L</tspan></text>
<text y="1041.6" font-family='"DejaVu Sans Mono", "Liberation Mono", monospace' font-size="27" text-anchor="middle" stroke-width="0" transform="scale(2.15,1)"><tspan x="441.72" fill="#8a8a8a" stroke="#8a8a8a">-</tspan><tspan x="892.52 901.72" fill="#8a8a8a" stroke="#8a8a8a">--</tspan></text>
<text font-family='"Liberation Sans", Arial, sans-serif' font-size="35" font-weight="bold" x="1958" y="1048.2">48</text>
<text y="1092.7" font-family='"DejaVu Sans Mono", "Liberation Mono", monospace' font-size="38" text-anchor="middle" stroke-width="0.2"><tspan x="989.26 1009.04 1028.82 1048.6 1068.38" fill="#8c8c8c" stroke="#8c8c8c">*****</tspan><tspan x="1127.72 1147.5 1167.28" fill="#8c8c8c" stroke="#8c8c8c">***</tspan><tspan x="1206.84 1226.62 1246.4 1266.18 1285.96 1305.74 1325.52 1345.3 1365.08 1384.86" fill="#8c8c8c" stroke="#8c8c8c">**********</tspan><tspan x="1424.42 1444.2 1463.98 1483.76 1503.54" fill="#8c8c8c" stroke="#8c8c8c">*****</tspan><tspan x="1543.1 1562.88 1582.66 1602.44" fill="#8c8c8c" stroke="#8c8c8c">****</tspan><tspan x="1642" fill="#8c8c8c" stroke="#8c8c8c">*</tspan><tspan x="1721.12 1740.9" fill="#8c8c8c" stroke="#8c8c8c">**</tspan><tspan x="1800.24" fill="#8c8c8c" stroke="#8c8c8c">*</tspan><tspan x="1879.36" fill="#8c8c8c" stroke="#8c8c8c">*</tspan></text>
<text y="1080.8" font-family='"DejaVu Sans Mono", "Liberation Mono", monospace' font-size="31" text-anchor="middle" stroke-width="0.5"><tspan x="1088.16 1107.94" fill="#8c8c8c" stroke="#8c8c8c">::</tspan><tspan x="1187.06" fill="#8c8c8c" stroke="#8c8c8c">.</tspan><tspan x="1404.64" fill="#8c8c8c" stroke="#8c8c8c">:</tspan><tspan x="1523.32" fill="#8c8c8c" stroke="#8c8c8c">:</tspan><tspan x="1622.22" fill="#8c8c8c" stroke="#8c8c8c">:</tspan><tspan x="1661.78 1681.56" fill="#8c8c8c" stroke="#8c8c8c">:.</tspan><tspan x="1760.68 1780.46" fill="#8c8c8c" stroke="#8c8c8c">::</tspan><tspan x="1820.02" fill="#8c8c8c" stroke="#8c8c8c">:</tspan></text>
<rect x="1002.5" y="861" width="18.8" height="195.3" fill="none" stroke="#000" stroke-width="3.2"/>
</g>
<g id="ph">
<text font-family='"Liberation Sans", Arial, sans-serif' font-size="46" font-weight="bold" x="901" y="1147">h</text>
<defs><clipPath id="cph"><rect x="883.6" y="1294" width="1110.7" height="368.2"/></clipPath></defs>
<rect x="883.6" y="1294" width="1110.7" height="368.2" fill="#fff" stroke="#cfcfcf" stroke-width="2"/>
<g clip-path="url(#cph)">
<rect x="895.95" y="1300" width="2.3" height="362.2" fill="#c6eff4"/>
<rect x="910.89" y="1300" width="2.3" height="362.2" fill="#c6eff4"/>
<rect x="925.83" y="1300" width="2.3" height="362.2" fill="#c6eff4"/>
<rect x="940.77" y="1300" width="2.3" height="362.2" fill="#c6eff4"/>
<rect x="955.7" y="1300" width="2.3" height="362.2" fill="#c6eff4"/>
<rect x="970.64" y="1300" width="2.3" height="362.2" fill="#c6eff4"/>
<rect x="985.58" y="1300" width="2.3" height="362.2" fill="#c6eff4"/>
<rect x="1000.51" y="1300" width="2.3" height="362.2" fill="#c6eff4"/>
<rect x="1014.85" y="1300" width="2.3" height="362.2" fill="#b0d6f7"/>
<rect x="1030.39" y="1300" width="2.3" height="362.2" fill="#c6eff4"/>
<rect x="1045.32" y="1300" width="2.3" height="362.2" fill="#c6eff4"/>
<rect x="1060.26" y="1300" width="2.3" height="362.2" fill="#c6eff4"/>
<rect x="1075.2" y="1300" width="2.3" height="362.2" fill="#c6eff4"/>
<rect x="1090.13" y="1300" width="2.3" height="362.2" fill="#c6eff4"/>
<rect x="1105.07" y="1300" width="2.3" height="362.2" fill="#c6eff4"/>
<rect x="1120.01" y="1300" width="2.3" height="362.2" fill="#c6eff4"/>
<rect x="1134.95" y="1300" width="2.3" height="362.2" fill="#c6eff4"/>
<rect x="1149.88" y="1300" width="2.3" height="362.2" fill="#c6eff4"/>
<rect x="1164.22" y="1300" width="2.3" height="362.2" fill="#b0d6f7"/>
<rect x="1179.76" y="1300" width="2.3" height="362.2" fill="#c6eff4"/>
<rect x="1194.69" y="1300" width="2.3" height="362.2" fill="#c6eff4"/>
<rect x="1209.63" y="1300" width="2.3" height="362.2" fill="#c6eff4"/>
<rect x="1224.57" y="1300" width="2.3" height="362.2" fill="#c6eff4"/>
<rect x="1239.5" y="1300" width="2.3" height="362.2" fill="#c6eff4"/>
<rect x="1254.44" y="1300" width="2.3" height="362.2" fill="#c6eff4"/>
<rect x="1269.38" y="1300" width="2.3" height="362.2" fill="#c6eff4"/>
<rect x="1284.32" y="1300" width="2.3" height="362.2" fill="#c6eff4"/>
<rect x="1299.25" y="1300" width="2.3" height="362.2" fill="#c6eff4"/>
<rect x="1313.59" y="1300" width="2.3" height="362.2" fill="#b0d6f7"/>
<rect x="1329.13" y="1300" width="2.3" height="362.2" fill="#c6eff4"/>
<rect x="1344.06" y="1300" width="2.3" height="362.2" fill="#c6eff4"/>
<rect x="1359" y="1300" width="2.3" height="362.2" fill="#c6eff4"/>
<rect x="1373.94" y="1300" width="2.3" height="362.2" fill="#c6eff4"/>
<rect x="1388.87" y="1300" width="2.3" height="362.2" fill="#c6eff4"/>
<rect x="1403.81" y="1300" width="2.3" height="362.2" fill="#c6eff4"/>
<rect x="1418.75" y="1300" width="2.3" height="362.2" fill="#c6eff4"/>
<rect x="1433.69" y="1300" width="2.3" height="362.2" fill="#c6eff4"/>
<rect x="1448.62" y="1300" width="2.3" height="362.2" fill="#c6eff4"/>
<rect x="1462.96" y="1300" width="2.3" height="362.2" fill="#b0d6f7"/>
<rect x="1478.5" y="1300" width="2.3" height="362.2" fill="#c6eff4"/>
<rect x="1493.43" y="1300" width="2.3" height="362.2" fill="#c6eff4"/>
<rect x="1508.37" y="1300" width="2.3" height="362.2" fill="#c6eff4"/>
<rect x="1523.31" y="1300" width="2.3" height="362.2" fill="#c6eff4"/>
<rect x="1538.24" y="1300" width="2.3" height="362.2" fill="#c6eff4"/>
<rect x="1553.18" y="1300" width="2.3" height="362.2" fill="#c6eff4"/>
<rect x="1568.12" y="1300" width="2.3" height="362.2" fill="#c6eff4"/>
<rect x="1583.06" y="1300" width="2.3" height="362.2" fill="#c6eff4"/>
<rect x="1597.99" y="1300" width="2.3" height="362.2" fill="#c6eff4"/>
<rect x="1612.33" y="1300" width="2.3" height="362.2" fill="#b0d6f7"/>
<rect x="1627.87" y="1300" width="2.3" height="362.2" fill="#c6eff4"/>
<rect x="1642.8" y="1300" width="2.3" height="362.2" fill="#c6eff4"/>
<rect x="1657.74" y="1300" width="2.3" height="362.2" fill="#c6eff4"/>
<rect x="1672.68" y="1300" width="2.3" height="362.2" fill="#c6eff4"/>
<rect x="1687.61" y="1300" width="2.3" height="362.2" fill="#c6eff4"/>
<rect x="1702.55" y="1300" width="2.3" height="362.2" fill="#c6eff4"/>
<rect x="1717.49" y="1300" width="2.3" height="362.2" fill="#c6eff4"/>
<rect x="1732.43" y="1300" width="2.3" height="362.2" fill="#c6eff4"/>
<rect x="1747.36" y="1300" width="2.3" height="362.2" fill="#c6eff4"/>
<rect x="1761.7" y="1300" width="2.3" height="362.2" fill="#b0d6f7"/>
<rect x="1777.24" y="1300" width="2.3" height="362.2" fill="#c6eff4"/>
<rect x="1792.17" y="1300" width="2.3" height="362.2" fill="#c6eff4"/>
<rect x="1807.11" y="1300" width="2.3" height="362.2" fill="#c6eff4"/>
<rect x="1822.05" y="1300" width="2.3" height="362.2" fill="#c6eff4"/>
<rect x="1836.98" y="1300" width="2.3" height="362.2" fill="#c6eff4"/>
<rect x="1851.92" y="1300" width="2.3" height="362.2" fill="#c6eff4"/>
<rect x="1866.86" y="1300" width="2.3" height="362.2" fill="#c6eff4"/>
<rect x="1881.8" y="1300" width="2.3" height="362.2" fill="#c6eff4"/>
<rect x="1896.73" y="1300" width="2.3" height="362.2" fill="#c6eff4"/>
<rect x="1911.07" y="1300" width="2.3" height="362.2" fill="#b0d6f7"/>
<rect x="1926.61" y="1300" width="2.3" height="362.2" fill="#c6eff4"/>
<rect x="1941.54" y="1300" width="2.3" height="362.2" fill="#c6eff4"/>
<rect x="1956.48" y="1300" width="2.3" height="362.2" fill="#c6eff4"/>
<rect x="1971.42" y="1300" width="2.3" height="362.2" fill="#c6eff4"/>
<rect x="1986.36" y="1300" width="2.3" height="362.2" fill="#c6eff4"/>
<line x1="883.6" y1="1298.9" x2="1994.3" y2="1298.9" stroke="#111" stroke-width="1.5"/>
<line x1="896.5" y1="1294.6" x2="896.5" y2="1302.4" stroke="#111" stroke-width="1.4"/>
<line x1="911.44" y1="1294.6" x2="911.44" y2="1302.4" stroke="#111" stroke-width="1.4"/>
<line x1="926.38" y1="1294.6" x2="926.38" y2="1302.4" stroke="#111" stroke-width="1.4"/>
<line x1="941.32" y1="1294.6" x2="941.32" y2="1302.4" stroke="#111" stroke-width="1.4"/>
<line x1="956.25" y1="1294.6" x2="956.25" y2="1302.4" stroke="#111" stroke-width="1.4"/>
<line x1="971.19" y1="1294.6" x2="971.19" y2="1302.4" stroke="#111" stroke-width="1.4"/>
<line x1="986.13" y1="1294.6" x2="986.13" y2="1302.4" stroke="#111" stroke-width="1.4"/>
<line x1="1001.06" y1="1294.6" x2="1001.06" y2="1302.4" stroke="#111" stroke-width="1.4"/>
<line x1="1016" y1="1294.6" x2="1016" y2="1302.4" stroke="#111" stroke-width="1.4"/>
<line x1="1030.94" y1="1294.6" x2="1030.94" y2="1302.4" stroke="#111" stroke-width="1.4"/>
<line x1="1045.87" y1="1294.6" x2="1045.87" y2="1302.4" stroke="#111" stroke-width="1.4"/>
<line x1="1060.81" y1="1294.6" x2="1060.81" y2="1302.4" stroke="#111" stroke-width="1.4"/>
<line x1="1075.75" y1="1294.6" x2="1075.75" y2="1302.4" stroke="#111" stroke-width="1.4"/>
<line x1="1090.68" y1="1294.6" x2="1090.68" y2="1302.4" stroke="#111" stroke-width="1.4"/>
<line x1="1105.62" y1="1294.6" x2="1105.62" y2="1302.4" stroke="#111" stroke-width="1.4"/>
<line x1="1120.56" y1="1294.6" x2="1120.56" y2="1302.4" stroke="#111" stroke-width="1.4"/>
<line x1="1135.5" y1="1294.6" x2="1135.5" y2="1302.4" stroke="#111" stroke-width="1.4"/>
<line x1="1150.43" y1="1294.6" x2="1150.43" y2="1302.4" stroke="#111" stroke-width="1.4"/>
<line x1="1165.37" y1="1294.6" x2="1165.37" y2="1302.4" stroke="#111" stroke-width="1.4"/>
<line x1="1180.31" y1="1294.6" x2="1180.31" y2="1302.4" stroke="#111" stroke-width="1.4"/>
<line x1="1195.24" y1="1294.6" x2="1195.24" y2="1302.4" stroke="#111" stroke-width="1.4"/>
<line x1="1210.18" y1="1294.6" x2="1210.18" y2="1302.4" stroke="#111" stroke-width="1.4"/>
<line x1="1225.12" y1="1294.6" x2="1225.12" y2="1302.4" stroke="#111" stroke-width="1.4"/>
<line x1="1240.06" y1="1294.6" x2="1240.06" y2="1302.4" stroke="#111" stroke-width="1.4"/>
<line x1="1254.99" y1="1294.6" x2="1254.99" y2="1302.4" stroke="#111" stroke-width="1.4"/>
<line x1="1269.93" y1="1294.6" x2="1269.93" y2="1302.4" stroke="#111" stroke-width="1.4"/>
<line x1="1284.87" y1="1294.6" x2="1284.87" y2="1302.4" stroke="#111" stroke-width="1.4"/>
<line x1="1299.8" y1="1294.6" x2="1299.8" y2="1302.4" stroke="#111" stroke-width="1.4"/>
<line x1="1314.74" y1="1294.6" x2="1314.74" y2="1302.4" stroke="#111" stroke-width="1.4"/>
<line x1="1329.68" y1="1294.6" x2="1329.68" y2="1302.4" stroke="#111" stroke-width="1.4"/>
<line x1="1344.61" y1="1294.6" x2="1344.61" y2="1302.4" stroke="#111" stroke-width="1.4"/>
<line x1="1359.55" y1="1294.6" x2="1359.55" y2="1302.4" stroke="#111" stroke-width="1.4"/>
<line x1="1374.49" y1="1294.6" x2="1374.49" y2="1302.4" stroke="#111" stroke-width="1.4"/>
<line x1="1389.42" y1="1294.6" x2="1389.42" y2="1302.4" stroke="#111" stroke-width="1.4"/>
<line x1="1404.36" y1="1294.6" x2="1404.36" y2="1302.4" stroke="#111" stroke-width="1.4"/>
<line x1="1419.3" y1="1294.6" x2="1419.3" y2="1302.4" stroke="#111" stroke-width="1.4"/>
<line x1="1434.24" y1="1294.6" x2="1434.24" y2="1302.4" stroke="#111" stroke-width="1.4"/>
<line x1="1449.17" y1="1294.6" x2="1449.17" y2="1302.4" stroke="#111" stroke-width="1.4"/>
<line x1="1464.11" y1="1294.6" x2="1464.11" y2="1302.4" stroke="#111" stroke-width="1.4"/>
<line x1="1479.05" y1="1294.6" x2="1479.05" y2="1302.4" stroke="#111" stroke-width="1.4"/>
<line x1="1493.98" y1="1294.6" x2="1493.98" y2="1302.4" stroke="#111" stroke-width="1.4"/>
<line x1="1508.92" y1="1294.6" x2="1508.92" y2="1302.4" stroke="#111" stroke-width="1.4"/>
<line x1="1523.86" y1="1294.6" x2="1523.86" y2="1302.4" stroke="#111" stroke-width="1.4"/>
<line x1="1538.8" y1="1294.6" x2="1538.8" y2="1302.4" stroke="#111" stroke-width="1.4"/>
<line x1="1553.73" y1="1294.6" x2="1553.73" y2="1302.4" stroke="#111" stroke-width="1.4"/>
<line x1="1568.67" y1="1294.6" x2="1568.67" y2="1302.4" stroke="#111" stroke-width="1.4"/>
<line x1="1583.61" y1="1294.6" x2="1583.61" y2="1302.4" stroke="#111" stroke-width="1.4"/>
<line x1="1598.54" y1="1294.6" x2="1598.54" y2="1302.4" stroke="#111" stroke-width="1.4"/>
<line x1="1613.48" y1="1294.6" x2="1613.48" y2="1302.4" stroke="#111" stroke-width="1.4"/>
<line x1="1628.42" y1="1294.6" x2="1628.42" y2="1302.4" stroke="#111" stroke-width="1.4"/>
<line x1="1643.35" y1="1294.6" x2="1643.35" y2="1302.4" stroke="#111" stroke-width="1.4"/>
<line x1="1658.29" y1="1294.6" x2="1658.29" y2="1302.4" stroke="#111" stroke-width="1.4"/>
<line x1="1673.23" y1="1294.6" x2="1673.23" y2="1302.4" stroke="#111" stroke-width="1.4"/>
<line x1="1688.16" y1="1294.6" x2="1688.16" y2="1302.4" stroke="#111" stroke-width="1.4"/>
<line x1="1703.1" y1="1294.6" x2="1703.1" y2="1302.4" stroke="#111" stroke-width="1.4"/>
<line x1="1718.04" y1="1294.6" x2="1718.04" y2="1302.4" stroke="#111" stroke-width="1.4"/>
<line x1="1732.98" y1="1294.6" x2="1732.98" y2="1302.4" stroke="#111" stroke-width="1.4"/>
<line x1="1747.91" y1="1294.6" x2="1747.91" y2="1302.4" stroke="#111" stroke-width="1.4"/>
<line x1="1762.85" y1="1294.6" x2="1762.85" y2="1302.4" stroke="#111" stroke-width="1.4"/>
<line x1="1777.79" y1="1294.6" x2="1777.79" y2="1302.4" stroke="#111" stroke-width="1.4"/>
<line x1="1792.72" y1="1294.6" x2="1792.72" y2="1302.4" stroke="#111" stroke-width="1.4"/>
<line x1="1807.66" y1="1294.6" x2="1807.66" y2="1302.4" stroke="#111" stroke-width="1.4"/>
<line x1="1822.6" y1="1294.6" x2="1822.6" y2="1302.4" stroke="#111" stroke-width="1.4"/>
<line x1="1837.54" y1="1294.6" x2="1837.54" y2="1302.4" stroke="#111" stroke-width="1.4"/>
<line x1="1852.47" y1="1294.6" x2="1852.47" y2="1302.4" stroke="#111" stroke-width="1.4"/>
<line x1="1867.41" y1="1294.6" x2="1867.41" y2="1302.4" stroke="#111" stroke-width="1.4"/>
<line x1="1882.35" y1="1294.6" x2="1882.35" y2="1302.4" stroke="#111" stroke-width="1.4"/>
<line x1="1897.28" y1="1294.6" x2="1897.28" y2="1302.4" stroke="#111" stroke-width="1.4"/>
<line x1="1912.22" y1="1294.6" x2="1912.22" y2="1302.4" stroke="#111" stroke-width="1.4"/>
<line x1="1927.16" y1="1294.6" x2="1927.16" y2="1302.4" stroke="#111" stroke-width="1.4"/>
<line x1="1942.09" y1="1294.6" x2="1942.09" y2="1302.4" stroke="#111" stroke-width="1.4"/>
<line x1="1957.03" y1="1294.6" x2="1957.03" y2="1302.4" stroke="#111" stroke-width="1.4"/>
<line x1="1971.97" y1="1294.6" x2="1971.97" y2="1302.4" stroke="#111" stroke-width="1.4"/>
<line x1="1986.91" y1="1294.6" x2="1986.91" y2="1302.4" stroke="#111" stroke-width="1.4"/>
<text font-family='"Liberation Sans", Arial, sans-serif' font-size="19.5" font-weight="normal" fill="#333" textLength="37.5" lengthAdjust="spacingAndGlyphs" x="995.5" y="1321.3">908k</text>
<text font-family='"Liberation Sans", Arial, sans-serif' font-size="19.5" font-weight="normal" fill="#333" textLength="37.5" lengthAdjust="spacingAndGlyphs" x="1144.87" y="1321.3">909k</text>
<text font-family='"Liberation Sans", Arial, sans-serif' font-size="19.5" font-weight="normal" fill="#333" textLength="37.5" lengthAdjust="spacingAndGlyphs" x="1294.24" y="1321.3">910k</text>
<text font-family='"Liberation Sans", Arial, sans-serif' font-size="19.5" font-weight="normal" fill="#333" textLength="37.5" lengthAdjust="spacingAndGlyphs" x="1443.61" y="1321.3">911k</text>
<text font-family='"Liberation Sans", Arial, sans-serif' font-size="19.5" font-weight="normal" fill="#333" textLength="37.5" lengthAdjust="spacingAndGlyphs" x="1592.98" y="1321.3">912k</text>
<text font-family='"Liberation Sans", Arial, sans-serif' font-size="19.5" font-weight="normal" fill="#333" textLength="37.5" lengthAdjust="spacingAndGlyphs" x="1742.35" y="1321.3">913k</text>
<text font-family='"Liberation Sans", Arial, sans-serif' font-size="19.5" font-weight="normal" fill="#333" textLength="37.5" lengthAdjust="spacingAndGlyphs" x="1891.72" y="1321.3">914k</text>
<text font-family='"Liberation Mono", monospace' font-size="22.5" font-weight="bold" fill="#111" textLength="501.5" lengthAdjust="spacingAndGlyphs" x="880" y="1381.5">d Transcripts ( UTRs in gray when available)</text>
<text font-family='"Liberation Mono", monospace' font-size="20.5" font-weight="normal" fill="#222" textLength="215" lengthAdjust="spacingAndGlyphs" x="897.1" y="1402.8">PF3D7_1222600.1(AP2-G)</text>
<text font-family='"Liberation Mono", monospace' font-size="22.5" font-weight="bold" fill="#111" textLength="182.4" lengthAdjust="spacingAndGlyphs" x="878.2" y="1473.6">coding potential</text>
<polygon points="897.7,1407.7 1980,1407.7 1988.6,1413 1980,1418.2 897.7,1418.2" fill="#0000ff"/>
<polygon points="880.34,1484.14 888.54,1475.74 896.74,1484.14 888.54,1492.54" fill="#ffffff" stroke="#444" stroke-width="1.1"/>
<polygon points="890.33,1484.14 898.53,1475.74 906.73,1484.14 898.53,1492.54" fill="#0000e6" stroke="#0a0a50" stroke-width="1.1"/>
<polygon points="900.32,1484.14 908.52,1475.74 916.72,1484.14 908.52,1492.54" fill="#0000e6" stroke="#0a0a50" stroke-width="1.1"/>
<polygon points="913.16,1484.14 921.36,1475.74 929.56,1484.14 921.36,1492.54" fill="#0000e6" stroke="#0a0a50" stroke-width="1.1"/>
<polygon points="918.86,1484.14 927.06,1475.74 935.26,1484.14 927.06,1492.54" fill="#0000e6" stroke="#0a0a50" stroke-width="1.1"/>
<polygon points="924.57,1484.14 932.77,1475.74 940.97,1484.14 932.77,1492.54" fill="#0000e6" stroke="#0a0a50" stroke-width="1.1"/>
<polygon points="931.7,1484.14 939.9,1475.74 948.1,1484.14 939.9,1492.54" fill="#0000e6" stroke="#0a0a50" stroke-width="1.1"/>
<polygon points="961.66,1484.14 969.86,1475.74 978.06,1484.14 969.86,1492.54" fill="#0000e6" stroke="#0a0a50" stroke-width="1.1"/>
<polygon points="971.64,1484.14 979.84,1475.74 988.04,1484.14 979.84,1492.54" fill="#0000e6" stroke="#0a0a50" stroke-width="1.1"/>
<polygon points="981.63,1484.14 989.83,1475.74 998.03,1484.14 989.83,1492.54" fill="#b4d8e8" stroke="#3a3a3a" stroke-width="1.1"/>
<polygon points="991.61,1484.14 999.81,1475.74 1008.01,1484.14 999.81,1492.54" fill="#0000e6" stroke="#0a0a50" stroke-width="1.1"/>
<polygon points="998.75,1484.14 1006.95,1475.74 1015.15,1484.14 1006.95,1492.54" fill="#0000e6" stroke="#0a0a50" stroke-width="1.1"/>
<polygon points="1005.88,1484.14 1014.08,1475.74 1022.28,1484.14 1014.08,1492.54" fill="#0000e6" stroke="#0a0a50" stroke-width="1.1"/>
<polygon points="1014.44,1484.14 1022.64,1475.74 1030.84,1484.14 1022.64,1492.54" fill="#b4d8e8" stroke="#3a3a3a" stroke-width="1.1"/>
<polygon points="1042.97,1484.14 1051.17,1475.74 1059.37,1484.14 1051.17,1492.54" fill="#b4d8e8" stroke="#3a3a3a" stroke-width="1.1"/>
<polygon points="1051.53,1484.14 1059.73,1475.74 1067.93,1484.14 1059.73,1492.54" fill="#0000e6" stroke="#0a0a50" stroke-width="1.1"/>
<polygon points="1067.22,1484.14 1075.42,1475.74 1083.62,1484.14 1075.42,1492.54" fill="#0000e6" stroke="#0a0a50" stroke-width="1.1"/>
<polygon points="1080.06,1484.14 1088.26,1475.74 1096.46,1484.14 1088.26,1492.54" fill="#0000e6" stroke="#0a0a50" stroke-width="1.1"/>
<polygon points="1100.03,1484.14 1108.23,1475.74 1116.43,1484.14 1108.23,1492.54" fill="#0000e6" stroke="#0a0a50" stroke-width="1.1"/>
<polygon points="1110.02,1484.14 1118.22,1475.74 1126.42,1484.14 1118.22,1492.54" fill="#0000e6" stroke="#0a0a50" stroke-width="1.1"/>
<polygon points="1115.72,1484.14 1123.92,1475.74 1132.12,1484.14 1123.92,1492.54" fill="#0000e6" stroke="#0a0a50" stroke-width="1.1"/>
<polygon points="1121.43,1484.14 1129.63,1475.74 1137.83,1484.14 1129.63,1492.54" fill="#0000e6" stroke="#0a0a50" stroke-width="1.1"/>
<polygon points="1125.71,1484.14 1133.91,1475.74 1142.11,1484.14 1133.91,1492.54" fill="#5f7582" stroke="#3a4a54" stroke-width="1.1"/>
<polygon points="1132.84,1484.14 1141.04,1475.74 1149.24,1484.14 1141.04,1492.54" fill="#b4d8e8" stroke="#3a3a3a" stroke-width="1.1"/>
<polygon points="1151.39,1484.14 1159.59,1475.74 1167.79,1484.14 1159.59,1492.54" fill="#0000e6" stroke="#0a0a50" stroke-width="1.1"/>
<polygon points="1158.52,1484.14 1166.72,1475.74 1174.92,1484.14 1166.72,1492.54" fill="#0000e6" stroke="#0a0a50" stroke-width="1.1"/>
<polygon points="1165.65,1484.14 1173.85,1475.74 1182.05,1484.14 1173.85,1492.54" fill="#0000e6" stroke="#0a0a50" stroke-width="1.1"/>
<polygon points="1172.78,1484.14 1180.98,1475.74 1189.18,1484.14 1180.98,1492.54" fill="#0000e6" stroke="#0a0a50" stroke-width="1.1"/>
<polygon points="1179.92,1484.14 1188.12,1475.74 1196.32,1484.14 1188.12,1492.54" fill="#0000e6" stroke="#0a0a50" stroke-width="1.1"/>
<polygon points="1192.76,1484.14 1200.96,1475.74 1209.16,1484.14 1200.96,1492.54" fill="#b4d8e8" stroke="#3a3a3a" stroke-width="1.1"/>
<polygon points="1211.3,1484.14 1219.5,1475.74 1227.7,1484.14 1219.5,1492.54" fill="#0000e6" stroke="#0a0a50" stroke-width="1.1"/>
<polygon points="1218.43,1484.14 1226.63,1475.74 1234.83,1484.14 1226.63,1492.54" fill="#0000e6" stroke="#0a0a50" stroke-width="1.1"/>
<polygon points="1225.57,1484.14 1233.77,1475.74 1241.97,1484.14 1233.77,1492.54" fill="#0000e6" stroke="#0a0a50" stroke-width="1.1"/>
<polygon points="1231.27,1484.14 1239.47,1475.74 1247.67,1484.14 1239.47,1492.54" fill="#b4d8e8" stroke="#3a3a3a" stroke-width="1.1"/>
<polygon points="1238.4,1484.14 1246.6,1475.74 1254.8,1484.14 1246.6,1492.54" fill="#0000e6" stroke="#0a0a50" stroke-width="1.1"/>
<polygon points="1245.54,1484.14 1253.74,1475.74 1261.94,1484.14 1253.74,1492.54" fill="#0000e6" stroke="#0a0a50" stroke-width="1.1"/>
<polygon points="1278.35,1484.14 1286.55,1475.74 1294.75,1484.14 1286.55,1492.54" fill="#0000e6" stroke="#0a0a50" stroke-width="1.1"/>
<polygon points="1284.05,1484.14 1292.25,1475.74 1300.45,1484.14 1292.25,1492.54" fill="#0000e6" stroke="#0a0a50" stroke-width="1.1"/>
<polygon points="1291.19,1484.14 1299.39,1475.74 1307.59,1484.14 1299.39,1492.54" fill="#5f7582" stroke="#3a4a54" stroke-width="1.1"/>
<polygon points="1298.32,1484.14 1306.52,1475.74 1314.72,1484.14 1306.52,1492.54" fill="#0000e6" stroke="#0a0a50" stroke-width="1.1"/>
<polygon points="1306.88,1484.14 1315.08,1475.74 1323.28,1484.14 1315.08,1492.54" fill="#0000e6" stroke="#0a0a50" stroke-width="1.1"/>
<polygon points="1314.01,1484.14 1322.21,1475.74 1330.41,1484.14 1322.21,1492.54" fill="#0000e6" stroke="#0a0a50" stroke-width="1.1"/>
<polygon points="1321.14,1484.14 1329.34,1475.74 1337.54,1484.14 1329.34,1492.54" fill="#0000e6" stroke="#0a0a50" stroke-width="1.1"/>
<polygon points="1328.28,1484.14 1336.48,1475.74 1344.68,1484.14 1336.48,1492.54" fill="#0000e6" stroke="#0a0a50" stroke-width="1.1"/>
<polygon points="1355.38,1484.14 1363.58,1475.74 1371.78,1484.14 1363.58,1492.54" fill="#0000e6" stroke="#0a0a50" stroke-width="1.1"/>
<polygon points="1375.35,1484.14 1383.55,1475.74 1391.75,1484.14 1383.55,1492.54" fill="#b4d8e8" stroke="#3a3a3a" stroke-width="1.1"/>
<polygon points="1383.91,1484.14 1392.11,1475.74 1400.31,1484.14 1392.11,1492.54" fill="#0000e6" stroke="#0a0a50" stroke-width="1.1"/>
<polygon points="1389.62,1484.14 1397.82,1475.74 1406.02,1484.14 1397.82,1492.54" fill="#0000e6" stroke="#0a0a50" stroke-width="1.1"/>
<polygon points="1396.75,1484.14 1404.95,1475.74 1413.15,1484.14 1404.95,1492.54" fill="#0000e6" stroke="#0a0a50" stroke-width="1.1"/>
<polygon points="1403.88,1484.14 1412.08,1475.74 1420.28,1484.14 1412.08,1492.54" fill="#0000e6" stroke="#0a0a50" stroke-width="1.1"/>
<polygon points="1411.02,1484.14 1419.22,1475.74 1427.42,1484.14 1419.22,1492.54" fill="#b4d8e8" stroke="#3a3a3a" stroke-width="1.1"/>
<polygon points="1418.15,1484.14 1426.35,1475.74 1434.55,1484.14 1426.35,1492.54" fill="#0000e6" stroke="#0a0a50" stroke-width="1.1"/>
<polygon points="1419.8,1484.14 1428,1475.74 1436.2,1484.14 1428,1492.54" fill="#0000e6" stroke="#0a0a50" stroke-width="1.1"/>
<polygon points="1446.9,1484.14 1455.1,1475.74 1463.3,1484.14 1455.1,1492.54" fill="#0000e6" stroke="#0a0a50" stroke-width="1.1"/>
<polygon points="1454.61,1484.14 1462.81,1475.74 1471.01,1484.14 1462.81,1492.54" fill="#b4d8e8" stroke="#3a3a3a" stroke-width="1.1"/>
<polygon points="1482.57,1484.14 1490.77,1475.74 1498.97,1484.14 1490.77,1492.54" fill="#0000e6" stroke="#0a0a50" stroke-width="1.1"/>
<polygon points="1489.7,1484.14 1497.9,1475.74 1506.1,1484.14 1497.9,1492.54" fill="#0000e6" stroke="#0a0a50" stroke-width="1.1"/>
<polygon points="1495.41,1484.14 1503.61,1475.74 1511.81,1484.14 1503.61,1492.54" fill="#0000e6" stroke="#0a0a50" stroke-width="1.1"/>
<polygon points="1501.97,1484.14 1510.17,1475.74 1518.37,1484.14 1510.17,1492.54" fill="#b4d8e8" stroke="#3a3a3a" stroke-width="1.1"/>
<polygon points="1518.23,1484.14 1526.43,1475.74 1534.63,1484.14 1526.43,1492.54" fill="#0000e6" stroke="#0a0a50" stroke-width="1.1"/>
<polygon points="1528.22,1484.14 1536.42,1475.74 1544.62,1484.14 1536.42,1492.54" fill="#b4d8e8" stroke="#3a3a3a" stroke-width="1.1"/>
<polygon points="1536.78,1484.14 1544.98,1475.74 1553.18,1484.14 1544.98,1492.54" fill="#0000e6" stroke="#0a0a50" stroke-width="1.1"/>
<polygon points="1549.61,1484.14 1557.81,1475.74 1566.01,1484.14 1557.81,1492.54" fill="#0000e6" stroke="#0a0a50" stroke-width="1.1"/>
<polygon points="1559.6,1484.14 1567.8,1475.74 1576,1484.14 1567.8,1492.54" fill="#0000e6" stroke="#0a0a50" stroke-width="1.1"/>
<polygon points="1566.73,1484.14 1574.93,1475.74 1583.13,1484.14 1574.93,1492.54" fill="#0000e6" stroke="#0a0a50" stroke-width="1.1"/>
<polygon points="1578.15,1484.14 1586.35,1475.74 1594.55,1484.14 1586.35,1492.54" fill="#0000e6" stroke="#0a0a50" stroke-width="1.1"/>
<polygon points="1585.28,1484.14 1593.48,1475.74 1601.68,1484.14 1593.48,1492.54" fill="#0000e6" stroke="#0a0a50" stroke-width="1.1"/>
<polygon points="1592.41,1484.14 1600.61,1475.74 1608.81,1484.14 1600.61,1492.54" fill="#0000e6" stroke="#0a0a50" stroke-width="1.1"/>
<polygon points="1600.11,1484.14 1608.31,1475.74 1616.51,1484.14 1608.31,1492.54" fill="#0000e6" stroke="#0a0a50" stroke-width="1.1"/>
<polygon points="1619.51,1484.14 1627.71,1475.74 1635.91,1484.14 1627.71,1492.54" fill="#0000e6" stroke="#0a0a50" stroke-width="1.1"/>
<polygon points="1632.35,1484.14 1640.55,1475.74 1648.75,1484.14 1640.55,1492.54" fill="#0000e6" stroke="#0a0a50" stroke-width="1.1"/>
<polygon points="1656.6,1484.14 1664.8,1475.74 1673,1484.14 1664.8,1492.54" fill="#0000e6" stroke="#0a0a50" stroke-width="1.1"/>
<polygon points="1662.31,1484.14 1670.51,1475.74 1678.71,1484.14 1670.51,1492.54" fill="#5f7582" stroke="#3a4a54" stroke-width="1.1"/>
<polygon points="1667.45,1484.14 1675.65,1475.74 1683.85,1484.14 1675.65,1492.54" fill="#b4d8e8" stroke="#3a3a3a" stroke-width="1.1"/>
<polygon points="1680,1484.14 1688.2,1475.74 1696.4,1484.14 1688.2,1492.54" fill="#0000e6" stroke="#0a0a50" stroke-width="1.1"/>
<polygon points="1705.96,1484.14 1714.16,1475.74 1722.36,1484.14 1714.16,1492.54" fill="#ff0000" stroke="#700000" stroke-width="1.1"/>
<polygon points="1722.23,1484.14 1730.43,1475.74 1738.63,1484.14 1730.43,1492.54" fill="#0000e6" stroke="#0a0a50" stroke-width="1.1"/>
<polygon points="1729.36,1484.14 1737.56,1475.74 1745.76,1484.14 1737.56,1492.54" fill="#0000e6" stroke="#0a0a50" stroke-width="1.1"/>
<polygon points="1735.06,1484.14 1743.26,1475.74 1751.46,1484.14 1743.26,1492.54" fill="#b4d8e8" stroke="#3a3a3a" stroke-width="1.1"/>
<polygon points="1742.2,1484.14 1750.4,1475.74 1758.6,1484.14 1750.4,1492.54" fill="#0000e6" stroke="#0a0a50" stroke-width="1.1"/>
<polygon points="1749.33,1484.14 1757.53,1475.74 1765.73,1484.14 1757.53,1492.54" fill="#0000e6" stroke="#0a0a50" stroke-width="1.1"/>
<polygon points="1756.46,1484.14 1764.66,1475.74 1772.86,1484.14 1764.66,1492.54" fill="#0000e6" stroke="#0a0a50" stroke-width="1.1"/>
<polygon points="1762.17,1484.14 1770.37,1475.74 1778.57,1484.14 1770.37,1492.54" fill="#0000e6" stroke="#0a0a50" stroke-width="1.1"/>
<polygon points="1775.01,1484.14 1783.21,1475.74 1791.41,1484.14 1783.21,1492.54" fill="#0000e6" stroke="#0a0a50" stroke-width="1.1"/>
<polygon points="1791.55,1484.14 1799.75,1475.74 1807.95,1484.14 1799.75,1492.54" fill="#b4d8e8" stroke="#3a3a3a" stroke-width="1.1"/>
<polygon points="1851.47,1484.14 1859.67,1475.74 1867.87,1484.14 1859.67,1492.54" fill="#0000e6" stroke="#0a0a50" stroke-width="1.1"/>
<polygon points="1909.1,1484.14 1917.3,1475.74 1925.5,1484.14 1917.3,1492.54" fill="#0000e6" stroke="#0a0a50" stroke-width="1.1"/>
<polygon points="1933.35,1484.14 1941.55,1475.74 1949.75,1484.14 1941.55,1492.54" fill="#0000e6" stroke="#0a0a50" stroke-width="1.1"/>
<polygon points="1941.34,1484.14 1949.54,1475.74 1957.74,1484.14 1949.54,1492.54" fill="#0000e6" stroke="#0a0a50" stroke-width="1.1"/>
<polygon points="1954.18,1484.14 1962.38,1475.74 1970.58,1484.14 1962.38,1492.54" fill="#0000e6" stroke="#0a0a50" stroke-width="1.1"/>
<polygon points="1966.16,1484.14 1974.36,1475.74 1982.56,1484.14 1974.36,1492.54" fill="#0000e6" stroke="#0a0a50" stroke-width="1.1"/>
<polygon points="1974.72,1484.14 1982.92,1475.74 1991.12,1484.14 1982.92,1492.54" fill="#0000e6" stroke="#0a0a50" stroke-width="1.1"/>
<polygon points="1983.28,1484.14 1991.48,1475.74 1999.68,1484.14 1991.48,1492.54" fill="#5f7582" stroke="#3a4a54" stroke-width="1.1"/>
<polygon points="880.34,1505.54 888.54,1497.14 896.74,1505.54 888.54,1513.94" fill="#ffffff" stroke="#444" stroke-width="1.1"/>
<polygon points="891.76,1505.54 899.96,1497.14 908.16,1505.54 899.96,1513.94" fill="#0000e6" stroke="#0a0a50" stroke-width="1.1"/>
<polygon points="900.32,1505.54 908.52,1497.14 916.72,1505.54 908.52,1513.94" fill="#0000e6" stroke="#0a0a50" stroke-width="1.1"/>
<polygon points="983.63,1505.54 991.83,1497.14 1000.03,1505.54 991.83,1513.94" fill="#0000e6" stroke="#0a0a50" stroke-width="1.1"/>
<polygon points="1011.59,1505.54 1019.79,1497.14 1027.99,1505.54 1019.79,1513.94" fill="#0000e6" stroke="#0a0a50" stroke-width="1.1"/>
<polygon points="1080.06,1505.54 1088.26,1497.14 1096.46,1505.54 1088.26,1513.94" fill="#0000e6" stroke="#0a0a50" stroke-width="1.1"/>
<polygon points="1100.89,1505.54 1109.09,1497.14 1117.29,1505.54 1109.09,1513.94" fill="#0000e6" stroke="#0a0a50" stroke-width="1.1"/>
<polygon points="1117.15,1505.54 1125.35,1497.14 1133.55,1505.54 1125.35,1513.94" fill="#0000e6" stroke="#0a0a50" stroke-width="1.1"/>
<polygon points="1122.86,1505.54 1131.06,1497.14 1139.26,1505.54 1131.06,1513.94" fill="#0000e6" stroke="#0a0a50" stroke-width="1.1"/>
<polygon points="1129.99,1505.54 1138.19,1497.14 1146.39,1505.54 1138.19,1513.94" fill="#b4d8e8" stroke="#3a3a3a" stroke-width="1.1"/>
<polygon points="1162.8,1505.54 1171,1497.14 1179.2,1505.54 1171,1513.94" fill="#0000e6" stroke="#0a0a50" stroke-width="1.1"/>
<polygon points="1174.21,1505.54 1182.41,1497.14 1190.61,1505.54 1182.41,1513.94" fill="#0000e6" stroke="#0a0a50" stroke-width="1.1"/>
<polygon points="1181.34,1505.54 1189.54,1497.14 1197.74,1505.54 1189.54,1513.94" fill="#0000e6" stroke="#0a0a50" stroke-width="1.1"/>
<polygon points="1217.01,1505.54 1225.21,1497.14 1233.41,1505.54 1225.21,1513.94" fill="#0000e6" stroke="#0a0a50" stroke-width="1.1"/>
<polygon points="1224.14,1505.54 1232.34,1497.14 1240.54,1505.54 1232.34,1513.94" fill="#b4d8e8" stroke="#3a3a3a" stroke-width="1.1"/>
<polygon points="1232.7,1505.54 1240.9,1497.14 1249.1,1505.54 1240.9,1513.94" fill="#0000e6" stroke="#0a0a50" stroke-width="1.1"/>
<polygon points="1246.96,1505.54 1255.16,1497.14 1263.36,1505.54 1255.16,1513.94" fill="#0000e6" stroke="#0a0a50" stroke-width="1.1"/>
<polygon points="1279.77,1505.54 1287.97,1497.14 1296.17,1505.54 1287.97,1513.94" fill="#0000e6" stroke="#0a0a50" stroke-width="1.1"/>
<polygon points="1289.76,1505.54 1297.96,1497.14 1306.16,1505.54 1297.96,1513.94" fill="#5f7582" stroke="#3a4a54" stroke-width="1.1"/>
<polygon points="1298.32,1505.54 1306.52,1497.14 1314.72,1505.54 1306.52,1513.94" fill="#0000e6" stroke="#0a0a50" stroke-width="1.1"/>
<polygon points="1312.01,1505.54 1320.21,1497.14 1328.41,1505.54 1320.21,1513.94" fill="#b4d8e8" stroke="#3a3a3a" stroke-width="1.1"/>
<polygon points="1329.7,1505.54 1337.9,1497.14 1346.1,1505.54 1337.9,1513.94" fill="#0000e6" stroke="#0a0a50" stroke-width="1.1"/>
<polygon points="1357.66,1505.54 1365.86,1497.14 1374.06,1505.54 1365.86,1513.94" fill="#0000e6" stroke="#0a0a50" stroke-width="1.1"/>
<polygon points="1386.19,1505.54 1394.39,1497.14 1402.59,1505.54 1394.39,1513.94" fill="#0000e6" stroke="#0a0a50" stroke-width="1.1"/>
<polygon points="1392.47,1505.54 1400.67,1497.14 1408.87,1505.54 1400.67,1513.94" fill="#0000e6" stroke="#0a0a50" stroke-width="1.1"/>
<polygon points="1399.6,1505.54 1407.8,1497.14 1416,1505.54 1407.8,1513.94" fill="#0000e6" stroke="#0a0a50" stroke-width="1.1"/>
<polygon points="1413.87,1505.54 1422.07,1497.14 1430.27,1505.54 1422.07,1513.94" fill="#0000e6" stroke="#0a0a50" stroke-width="1.1"/>
<polygon points="1488.27,1505.54 1496.47,1497.14 1504.67,1505.54 1496.47,1513.94" fill="#5f7582" stroke="#3a4a54" stroke-width="1.1"/>
<polygon points="1494.55,1505.54 1502.75,1497.14 1510.95,1505.54 1502.75,1513.94" fill="#0000e6" stroke="#0a0a50" stroke-width="1.1"/>
<polygon points="1501.97,1505.54 1510.17,1497.14 1518.37,1505.54 1510.17,1513.94" fill="#b4d8e8" stroke="#3a3a3a" stroke-width="1.1"/>
<polygon points="1519.66,1505.54 1527.86,1497.14 1536.06,1505.54 1527.86,1513.94" fill="#0000e6" stroke="#0a0a50" stroke-width="1.1"/>
<polygon points="1536.21,1505.54 1544.41,1497.14 1552.61,1505.54 1544.41,1513.94" fill="#0000e6" stroke="#0a0a50" stroke-width="1.1"/>
<polygon points="1579.57,1505.54 1587.77,1497.14 1595.97,1505.54 1587.77,1513.94" fill="#0000e6" stroke="#0a0a50" stroke-width="1.1"/>
<polygon points="1590.98,1505.54 1599.18,1497.14 1607.38,1505.54 1599.18,1513.94" fill="#0000e6" stroke="#0a0a50" stroke-width="1.1"/>
<polygon points="1600.11,1505.54 1608.31,1497.14 1616.51,1505.54 1608.31,1513.94" fill="#0000e6" stroke="#0a0a50" stroke-width="1.1"/>
<polygon points="1658.03,1505.54 1666.23,1497.14 1674.43,1505.54 1666.23,1513.94" fill="#5f7582" stroke="#3a4a54" stroke-width="1.1"/>
<polygon points="1662.31,1505.54 1670.51,1497.14 1678.71,1505.54 1670.51,1513.94" fill="#0000e6" stroke="#0a0a50" stroke-width="1.1"/>
<polygon points="1668.87,1505.54 1677.07,1497.14 1685.27,1505.54 1677.07,1513.94" fill="#b4d8e8" stroke="#3a3a3a" stroke-width="1.1"/>
<polygon points="1707.39,1505.54 1715.59,1497.14 1723.79,1505.54 1715.59,1513.94" fill="#b4d8e8" stroke="#3a3a3a" stroke-width="1.1"/>
<polygon points="1730.78,1505.54 1738.98,1497.14 1747.18,1505.54 1738.98,1513.94" fill="#0000e6" stroke="#0a0a50" stroke-width="1.1"/>
<polygon points="1742.2,1505.54 1750.4,1497.14 1758.6,1505.54 1750.4,1513.94" fill="#5f7582" stroke="#3a4a54" stroke-width="1.1"/>
<polygon points="1748.76,1505.54 1756.96,1497.14 1765.16,1505.54 1756.96,1513.94" fill="#0000e6" stroke="#0a0a50" stroke-width="1.1"/>
<polygon points="1763.59,1505.54 1771.79,1497.14 1779.99,1505.54 1771.79,1513.94" fill="#0000e6" stroke="#0a0a50" stroke-width="1.1"/>
<polygon points="1772.15,1505.54 1780.35,1497.14 1788.55,1505.54 1780.35,1513.94" fill="#0000e6" stroke="#0a0a50" stroke-width="1.1"/>
<polygon points="1778.72,1505.54 1786.92,1497.14 1795.12,1505.54 1786.92,1513.94" fill="#0000e6" stroke="#0a0a50" stroke-width="1.1"/>
<polygon points="1909.96,1505.54 1918.16,1497.14 1926.36,1505.54 1918.16,1513.94" fill="#b4d8e8" stroke="#3a3a3a" stroke-width="1.1"/>
<polygon points="1967.59,1505.54 1975.79,1497.14 1983.99,1505.54 1975.79,1513.94" fill="#0000e6" stroke="#0a0a50" stroke-width="1.1"/>
<polygon points="1983.28,1505.54 1991.48,1497.14 1999.68,1505.54 1991.48,1513.94" fill="#ffffff" stroke="#444" stroke-width="1.1"/>
<polygon points="901.74,1526.65 909.94,1518.25 918.14,1526.65 909.94,1535.05" fill="#0000e6" stroke="#0a0a50" stroke-width="1.1"/>
<polygon points="1013.01,1526.65 1021.21,1518.25 1029.41,1526.65 1021.21,1535.05" fill="#0000e6" stroke="#0a0a50" stroke-width="1.1"/>
<polygon points="1080.06,1526.65 1088.26,1518.25 1096.46,1526.65 1088.26,1535.05" fill="#0000e6" stroke="#0a0a50" stroke-width="1.1"/>
<polygon points="1115.72,1526.65 1123.92,1518.25 1132.12,1526.65 1123.92,1535.05" fill="#0000e6" stroke="#0a0a50" stroke-width="1.1"/>
<polygon points="1124.28,1526.65 1132.48,1518.25 1140.68,1526.65 1132.48,1535.05" fill="#5f7582" stroke="#3a4a54" stroke-width="1.1"/>
<polygon points="1131.41,1526.65 1139.61,1518.25 1147.81,1526.65 1139.61,1535.05" fill="#b4d8e8" stroke="#3a3a3a" stroke-width="1.1"/>
<polygon points="1174.21,1526.65 1182.41,1518.25 1190.61,1526.65 1182.41,1535.05" fill="#0000e6" stroke="#0a0a50" stroke-width="1.1"/>
<polygon points="1181.34,1526.65 1189.54,1518.25 1197.74,1526.65 1189.54,1535.05" fill="#0000e6" stroke="#0a0a50" stroke-width="1.1"/>
<polygon points="1220.72,1526.65 1228.92,1518.25 1237.12,1526.65 1228.92,1535.05" fill="#0000e6" stroke="#0a0a50" stroke-width="1.1"/>
<polygon points="1289.76,1526.65 1297.96,1518.25 1306.16,1526.65 1297.96,1535.05" fill="#5f7582" stroke="#3a4a54" stroke-width="1.1"/>
<polygon points="1298.32,1526.65 1306.52,1518.25 1314.72,1526.65 1306.52,1535.05" fill="#0000e6" stroke="#0a0a50" stroke-width="1.1"/>
<polygon points="1312.58,1526.65 1320.78,1518.25 1328.98,1526.65 1320.78,1535.05" fill="#0000e6" stroke="#0a0a50" stroke-width="1.1"/>
<polygon points="1388.76,1526.65 1396.96,1518.25 1405.16,1526.65 1396.96,1535.05" fill="#0000e6" stroke="#0a0a50" stroke-width="1.1"/>
<polygon points="1489.7,1526.65 1497.9,1518.25 1506.1,1526.65 1497.9,1535.05" fill="#0000e6" stroke="#0a0a50" stroke-width="1.1"/>
<polygon points="1495.41,1526.65 1503.61,1518.25 1511.81,1526.65 1503.61,1535.05" fill="#0000e6" stroke="#0a0a50" stroke-width="1.1"/>
<polygon points="1521.08,1526.65 1529.28,1518.25 1537.48,1526.65 1529.28,1535.05" fill="#0000e6" stroke="#0a0a50" stroke-width="1.1"/>
<polygon points="1579.57,1526.65 1587.77,1518.25 1595.97,1526.65 1587.77,1535.05" fill="#0000e6" stroke="#0a0a50" stroke-width="1.1"/>
<polygon points="1592.41,1526.65 1600.61,1518.25 1608.81,1526.65 1600.61,1535.05" fill="#0000e6" stroke="#0a0a50" stroke-width="1.1"/>
<polygon points="1601.54,1526.65 1609.74,1518.25 1617.94,1526.65 1609.74,1535.05" fill="#0000e6" stroke="#0a0a50" stroke-width="1.1"/>
<polygon points="1658.89,1526.65 1667.09,1518.25 1675.29,1526.65 1667.09,1535.05" fill="#0000e6" stroke="#0a0a50" stroke-width="1.1"/>
<polygon points="1666.59,1526.65 1674.79,1518.25 1682.99,1526.65 1674.79,1535.05" fill="#b4d8e8" stroke="#3a3a3a" stroke-width="1.1"/>
<polygon points="1730.78,1526.65 1738.98,1518.25 1747.18,1526.65 1738.98,1535.05" fill="#0000e6" stroke="#0a0a50" stroke-width="1.1"/>
<polygon points="1743.62,1526.65 1751.82,1518.25 1760.02,1526.65 1751.82,1535.05" fill="#0000e6" stroke="#0a0a50" stroke-width="1.1"/>
<polygon points="1750.19,1526.65 1758.39,1518.25 1766.59,1526.65 1758.39,1535.05" fill="#0000e6" stroke="#0a0a50" stroke-width="1.1"/>
<polygon points="1773.58,1526.65 1781.78,1518.25 1789.98,1526.65 1781.78,1535.05" fill="#5f7582" stroke="#3a4a54" stroke-width="1.1"/>
<polygon points="1777.86,1526.65 1786.06,1518.25 1794.26,1526.65 1786.06,1535.05" fill="#0000e6" stroke="#0a0a50" stroke-width="1.1"/>
<polygon points="1967.02,1526.65 1975.22,1518.25 1983.42,1526.65 1975.22,1535.05" fill="#0000e6" stroke="#0a0a50" stroke-width="1.1"/>
<polygon points="1983.28,1526.65 1991.48,1518.25 1999.68,1526.65 1991.48,1535.05" fill="#ffffff" stroke="#444" stroke-width="1.1"/>
<polygon points="1013.01,1547.48 1021.21,1539.08 1029.41,1547.48 1021.21,1555.88" fill="#0000e6" stroke="#0a0a50" stroke-width="1.1"/>
<polygon points="1081.49,1547.48 1089.69,1539.08 1097.89,1547.48 1089.69,1555.88" fill="#0000e6" stroke="#0a0a50" stroke-width="1.1"/>
<polygon points="1120,1547.48 1128.2,1539.08 1136.4,1547.48 1128.2,1555.88" fill="#b4d8e8" stroke="#3a3a3a" stroke-width="1.1"/>
<polygon points="1132.27,1547.48 1140.47,1539.08 1148.67,1547.48 1140.47,1555.88" fill="#b4d8e8" stroke="#3a3a3a" stroke-width="1.1"/>
<polygon points="1181.34,1547.48 1189.54,1539.08 1197.74,1547.48 1189.54,1555.88" fill="#0000e6" stroke="#0a0a50" stroke-width="1.1"/>
<polygon points="1223.57,1547.48 1231.77,1539.08 1239.97,1547.48 1231.77,1555.88" fill="#0000e6" stroke="#0a0a50" stroke-width="1.1"/>
<polygon points="1289.76,1547.48 1297.96,1539.08 1306.16,1547.48 1297.96,1555.88" fill="#5f7582" stroke="#3a4a54" stroke-width="1.1"/>
<polygon points="1299.75,1547.48 1307.95,1539.08 1316.15,1547.48 1307.95,1555.88" fill="#b4d8e8" stroke="#3a3a3a" stroke-width="1.1"/>
<polygon points="1314.01,1547.48 1322.21,1539.08 1330.41,1547.48 1322.21,1555.88" fill="#0000e6" stroke="#0a0a50" stroke-width="1.1"/>
<polygon points="1496.26,1547.48 1504.46,1539.08 1512.66,1547.48 1504.46,1555.88" fill="#0000e6" stroke="#0a0a50" stroke-width="1.1"/>
<polygon points="1521.08,1547.48 1529.28,1539.08 1537.48,1547.48 1529.28,1555.88" fill="#0000e6" stroke="#0a0a50" stroke-width="1.1"/>
<polygon points="1581.85,1547.48 1590.05,1539.08 1598.25,1547.48 1590.05,1555.88" fill="#0000e6" stroke="#0a0a50" stroke-width="1.1"/>
<polygon points="1601.54,1547.48 1609.74,1539.08 1617.94,1547.48 1609.74,1555.88" fill="#0000e6" stroke="#0a0a50" stroke-width="1.1"/>
<polygon points="1658.89,1547.48 1667.09,1539.08 1675.29,1547.48 1667.09,1555.88" fill="#0000e6" stroke="#0a0a50" stroke-width="1.1"/>
<polygon points="1668.59,1547.48 1676.79,1539.08 1684.99,1547.48 1676.79,1555.88" fill="#b4d8e8" stroke="#3a3a3a" stroke-width="1.1"/>
<polygon points="1742.2,1547.48 1750.4,1539.08 1758.6,1547.48 1750.4,1555.88" fill="#0000e6" stroke="#0a0a50" stroke-width="1.1"/>
<polygon points="1748.76,1547.48 1756.96,1539.08 1765.16,1547.48 1756.96,1555.88" fill="#0000e6" stroke="#0a0a50" stroke-width="1.1"/>
<polygon points="1969.02,1547.48 1977.22,1539.08 1985.42,1547.48 1977.22,1555.88" fill="#0000e6" stroke="#0a0a50" stroke-width="1.1"/>
<polygon points="1120.86,1568.88 1129.06,1560.48 1137.26,1568.88 1129.06,1577.28" fill="#b4d8e8" stroke="#3a3a3a" stroke-width="1.1"/>
<polygon points="1182.77,1568.88 1190.97,1560.48 1199.17,1568.88 1190.97,1577.28" fill="#0000e6" stroke="#0a0a50" stroke-width="1.1"/>
<polygon points="1289.76,1568.88 1297.96,1560.48 1306.16,1568.88 1297.96,1577.28" fill="#5f7582" stroke="#3a4a54" stroke-width="1.1"/>
<polygon points="1297.75,1568.88 1305.95,1560.48 1314.15,1568.88 1305.95,1577.28" fill="#b4d8e8" stroke="#3a3a3a" stroke-width="1.1"/>
<polygon points="1521.08,1568.88 1529.28,1560.48 1537.48,1568.88 1529.28,1577.28" fill="#0000e6" stroke="#0a0a50" stroke-width="1.1"/>
<polygon points="1581.85,1568.88 1590.05,1560.48 1598.25,1568.88 1590.05,1577.28" fill="#0000e6" stroke="#0a0a50" stroke-width="1.1"/>
<polygon points="1660.03,1568.88 1668.23,1560.48 1676.43,1568.88 1668.23,1577.28" fill="#0000e6" stroke="#0a0a50" stroke-width="1.1"/>
<polygon points="1742.2,1568.88 1750.4,1560.48 1758.6,1568.88 1750.4,1577.28" fill="#0000e6" stroke="#0a0a50" stroke-width="1.1"/>
<polygon points="1749.33,1568.88 1757.53,1560.48 1765.73,1568.88 1757.53,1577.28" fill="#0000e6" stroke="#0a0a50" stroke-width="1.1"/>
<polygon points="1970.44,1568.88 1978.64,1560.48 1986.84,1568.88 1978.64,1577.28" fill="#0000e6" stroke="#0a0a50" stroke-width="1.1"/>
<polygon points="1118.58,1589.7 1126.78,1581.3 1134.98,1589.7 1126.78,1598.1" fill="#b4d8e8" stroke="#3a3a3a" stroke-width="1.1"/>
<polygon points="1124.28,1589.7 1132.48,1581.3 1140.68,1589.7 1132.48,1598.1" fill="#b4d8e8" stroke="#3a3a3a" stroke-width="1.1"/>
<polygon points="1289.76,1589.7 1297.96,1581.3 1306.16,1589.7 1297.96,1598.1" fill="#5f7582" stroke="#3a4a54" stroke-width="1.1"/>
<polygon points="1297.75,1589.7 1305.95,1581.3 1314.15,1589.7 1305.95,1598.1" fill="#b4d8e8" stroke="#3a3a3a" stroke-width="1.1"/>
<polygon points="1521.08,1589.7 1529.28,1581.3 1537.48,1589.7 1529.28,1598.1" fill="#0000e6" stroke="#0a0a50" stroke-width="1.1"/>
<polygon points="1581.85,1589.7 1590.05,1581.3 1598.25,1589.7 1590.05,1598.1" fill="#0000e6" stroke="#0a0a50" stroke-width="1.1"/>
<polygon points="1660.03,1589.7 1668.23,1581.3 1676.43,1589.7 1668.23,1598.1" fill="#b4d8e8" stroke="#3a3a3a" stroke-width="1.1"/>
<polygon points="1750.19,1589.7 1758.39,1581.3 1766.59,1589.7 1758.39,1598.1" fill="#0000e6" stroke="#0a0a50" stroke-width="1.1"/>
<polygon points="1120.86,1610.82 1129.06,1602.42 1137.26,1610.82 1129.06,1619.22" fill="#b4d8e8" stroke="#3a3a3a" stroke-width="1.1"/>
<polygon points="1289.76,1610.82 1297.96,1602.42 1306.16,1610.82 1297.96,1619.22" fill="#b4d8e8" stroke="#3a3a3a" stroke-width="1.1"/>
<polygon points="1299.18,1610.82 1307.38,1602.42 1315.58,1610.82 1307.38,1619.22" fill="#0000e6" stroke="#0a0a50" stroke-width="1.1"/>
<polygon points="1581.85,1610.82 1590.05,1602.42 1598.25,1610.82 1590.05,1619.22" fill="#0000e6" stroke="#0a0a50" stroke-width="1.1"/>
<polygon points="1750.19,1610.82 1758.39,1602.42 1766.59,1610.82 1758.39,1619.22" fill="#0000e6" stroke="#0a0a50" stroke-width="1.1"/>
<polygon points="1292.61,1632.21 1300.81,1623.81 1309.01,1632.21 1300.81,1640.61" fill="#b4d8e8" stroke="#3a3a3a" stroke-width="1.1"/>
<polygon points="1581.85,1632.21 1590.05,1623.81 1598.25,1632.21 1590.05,1640.61" fill="#0000e6" stroke="#0a0a50" stroke-width="1.1"/>
<polygon points="1750.19,1632.21 1758.39,1623.81 1766.59,1632.21 1758.39,1640.61" fill="#0000e6" stroke="#0a0a50" stroke-width="1.1"/>
<polygon points="1750.19,1653.04 1758.39,1644.64 1766.59,1653.04 1758.39,1661.44" fill="#0000e6" stroke="#0a0a50" stroke-width="1.1"/>
</g>
<line x1="1324.2" y1="1406.5" x2="1324.2" y2="1424" stroke="#e00000" stroke-width="1.3"/>
<polygon points="1317.8,1421.5 1330.6,1421.5 1324.2,1434.2" fill="#ff0000"/>
<line x1="1479.4" y1="1406.5" x2="1479.4" y2="1424" stroke="#e00000" stroke-width="1.3"/>
<polygon points="1473,1421.5 1485.8,1421.5 1479.4,1434.2" fill="#ff0000"/>
<text font-family='"Liberation Sans", Arial, sans-serif' font-size="31.2" font-weight="normal" fill="#ff0000" x="1269.5" y="1466.2">L969X</text>
<text font-family='"Liberation Sans", Arial, sans-serif' font-size="31.2" font-weight="normal" fill="#ff0000" textLength="112.5" lengthAdjust="spacingAndGlyphs" x="1403.5" y="1466.2">S1308X</text>
<text font-family='"Liberation Sans", Arial, sans-serif' font-size="31.2" font-weight="normal" fill="#ff0000" textLength="87.5" lengthAdjust="spacingAndGlyphs" x="1522.5" y="1466.2">(F-12)</text>
<text font-family='"Liberation Sans", Arial, sans-serif' font-size="31.4" font-weight="normal" x="1552" y="1370.5">L1823X</text>
<line x1="1277.5" y1="1237" x2="1862" y2="1393.5" stroke="#000" stroke-width="2.6"/>
<line x1="1863" y1="1237" x2="1903.5" y2="1393.5" stroke="#000" stroke-width="2.6"/>
<rect x="1863.2" y="1394.3" width="39.2" height="38.4" fill="#92d050" stroke="#000" stroke-width="3"/>
<line x1="1711.5" y1="1478" x2="1668.52" y2="1391.62" stroke="#000" stroke-width="2.8"/>
<polygon points="1660.5,1375.5 1677.47,1389.4 1661.35,1397.42" fill="#000"/>
<rect x="1278.1" y="1198.5" width="585.5" height="36.4" fill="#92d050" stroke="#000" stroke-width="3"/>
<text font-family='"Liberation Sans", Arial, sans-serif' font-size="35.5" font-weight="normal" textLength="194" lengthAdjust="spacingAndGlyphs" x="1588" y="1227">AP2 domain</text>
<text font-family='"Liberation Sans", Arial, sans-serif' font-size="32" font-weight="normal" textLength="116.5" lengthAdjust="spacingAndGlyphs" x="1146" y="1224.2">2158 aa</text>
<text font-family='"Liberation Sans", Arial, sans-serif' font-size="32" font-weight="normal" textLength="116.5" lengthAdjust="spacingAndGlyphs" x="1868" y="1224.8">2213 aa</text>
<line x1="1300" y1="1183" x2="1300" y2="1235.5" stroke="#ff0000" stroke-width="2.6" stroke-dasharray="9 6"/>
<polygon points="1290.6,1183.5 1309.4,1183.5 1300,1165" fill="#ff0000"/>
<line x1="1528.7" y1="1186" x2="1528.7" y2="1238.4" stroke="#ff0000" stroke-width="2.6"/>
<polygon points="1519.2,1187 1538.2,1187 1528.7,1168" fill="#ff0000"/>
<text font-family='"Liberation Sans", Arial, sans-serif' font-size="34.5" font-weight="bold" textLength="98" lengthAdjust="spacingAndGlyphs" x="1250" y="1159">V<tspan font-size="25" dy="7.2">2163</tspan><tspan dy="-7.2">L</tspan></text>
<text font-family='"Liberation Sans", Arial, sans-serif' font-size="34" font-weight="normal" textLength="32.5" lengthAdjust="spacingAndGlyphs" x="1427.5" y="1158.5">FS</text>
<text font-family='"Liberation Sans", Arial, sans-serif' font-size="25" font-weight="normal" textLength="56" lengthAdjust="spacingAndGlyphs" x="1462" y="1166.2">2190</text>
<text font-family='"Liberation Sans", Arial, sans-serif' font-size="34" font-weight="normal" textLength="150" lengthAdjust="spacingAndGlyphs" x="1526" y="1158.5">(GNP-A4)</text>
</g>
<g id="pa">
<text font-family='"Liberation Sans", Arial, sans-serif' font-size="46" font-weight="bold" x="-1" y="35.5">a</text>
<text font-family='"Liberation Sans", Arial, sans-serif' font-size="43.2" font-weight="bold" transform="translate(42.4,463.5) rotate(-90)">D6-GCR (%)</text>
<rect x="162.1" y="492.1" width="36.4" height="122.3" fill="#d3d3d3" stroke="#4a4a4a" stroke-width="2.2"/>
<rect x="138.1" y="65.3" width="5.8" height="551" fill="#000"/>
<rect x="116.6" y="65.3" width="24.4" height="6" fill="#000"/>
<rect x="128" y="92.95" width="13" height="5.2" fill="#000"/>
<rect x="128" y="120.2" width="13" height="5.2" fill="#000"/>
<rect x="128" y="147.45" width="13" height="5.2" fill="#000"/>
<rect x="128" y="174.7" width="13" height="5.2" fill="#000"/>
<text font-family='"Liberation Sans", Arial, sans-serif' font-size="40" font-weight="bold" text-anchor="end" x="111" y="82.9">20</text>
<rect x="116.6" y="201.55" width="24.4" height="6" fill="#000"/>
<rect x="128" y="229.2" width="13" height="5.2" fill="#000"/>
<rect x="128" y="256.45" width="13" height="5.2" fill="#000"/>
<rect x="128" y="283.7" width="13" height="5.2" fill="#000"/>
<rect x="128" y="310.95" width="13" height="5.2" fill="#000"/>
<text font-family='"Liberation Sans", Arial, sans-serif' font-size="40" font-weight="bold" text-anchor="end" x="111" y="219.15">15</text>
<rect x="116.6" y="337.8" width="24.4" height="6" fill="#000"/>
<rect x="128" y="365.45" width="13" height="5.2" fill="#000"/>
<rect x="128" y="392.7" width="13" height="5.2" fill="#000"/>
<rect x="128" y="419.95" width="13" height="5.2" fill="#000"/>
<rect x="128" y="447.2" width="13" height="5.2" fill="#000"/>
<text font-family='"Liberation Sans", Arial, sans-serif' font-size="40" font-weight="bold" text-anchor="end" x="111" y="355.4">10</text>
<rect x="116.6" y="474.05" width="24.4" height="6" fill="#000"/>
<rect x="128" y="501.7" width="13" height="5.2" fill="#000"/>
<rect x="128" y="528.95" width="13" height="5.2" fill="#000"/>
<rect x="128" y="556.2" width="13" height="5.2" fill="#000"/>
<rect x="128" y="583.45" width="13" height="5.2" fill="#000"/>
<text font-family='"Liberation Sans", Arial, sans-serif' font-size="40" font-weight="bold" text-anchor="end" x="111" y="491.65">5</text>
<text font-family='"Liberation Sans", Arial, sans-serif' font-size="40" font-weight="bold" text-anchor="end" x="111" y="627.9">0</text>
<rect x="116.6" y="610.3" width="225.8" height="6" fill="#000"/>
<rect x="177.2" y="613.3" width="6" height="23.1" fill="#000"/>
<rect x="236.4" y="613.3" width="6" height="23.1" fill="#000"/>
<rect x="296" y="613.3" width="6" height="23.1" fill="#000"/>
<line x1="181" y1="453" x2="181" y2="528" stroke="#333" stroke-width="2.6"/>
<line x1="171.5" y1="453" x2="190.5" y2="453" stroke="#333" stroke-width="2.6"/>
<line x1="171.5" y1="528" x2="190.5" y2="528" stroke="#333" stroke-width="2.6"/>
<circle cx="180.6" cy="326" r="11.3" fill="none" stroke="#000" stroke-width="2.5"/>
<circle cx="181.2" cy="326.6" r="11.3" fill="none" stroke="#000" stroke-width="2.5"/>
<circle cx="180.6" cy="379.4" r="11.3" fill="none" stroke="#000" stroke-width="2.5"/>
<circle cx="172.4" cy="579" r="11.3" fill="none" stroke="#000" stroke-width="2"/>
<circle cx="189" cy="562.4" r="11.3" fill="none" stroke="#000" stroke-width="2"/>
<circle cx="181" cy="553" r="11.3" fill="none" stroke="#000" stroke-width="2"/>
<circle cx="182" cy="572" r="11.3" fill="none" stroke="#000" stroke-width="2"/>
<circle cx="178.6" cy="560" r="11.3" fill="none" stroke="#000" stroke-width="2"/>
<circle cx="184" cy="566" r="11.3" fill="none" stroke="#000" stroke-width="2"/>
<circle cx="180" cy="556" r="11.3" fill="none" stroke="#000" stroke-width="2"/>
<circle cx="236.33" cy="607.06" r="11" fill="none" stroke="#000" stroke-width="2.6"/>
<circle cx="242.22" cy="606.51" r="11" fill="none" stroke="#000" stroke-width="2.6"/>
<circle cx="240.15" cy="608.56" r="11" fill="none" stroke="#000" stroke-width="2.6"/>
<circle cx="231.54" cy="609.55" r="11" fill="none" stroke="#000" stroke-width="2.6"/>
<circle cx="231.17" cy="609.04" r="11" fill="none" stroke="#000" stroke-width="2.6"/>
<circle cx="231.76" cy="606.63" r="11" fill="none" stroke="#000" stroke-width="2.6"/>
<circle cx="238.14" cy="611.79" r="11" fill="none" stroke="#000" stroke-width="2.6"/>
<circle cx="232.73" cy="607.56" r="11" fill="none" stroke="#000" stroke-width="2.6"/>
<circle cx="241.79" cy="612.63" r="11" fill="none" stroke="#000" stroke-width="2.6"/>
<circle cx="240.89" cy="608.78" r="11" fill="none" stroke="#000" stroke-width="2.6"/>
<circle cx="248.07" cy="606.33" r="11" fill="none" stroke="#000" stroke-width="2.6"/>
<circle cx="245.95" cy="608.03" r="11" fill="none" stroke="#000" stroke-width="2.6"/>
<circle cx="233.1" cy="606.82" r="11" fill="none" stroke="#000" stroke-width="2.6"/>
<circle cx="236.05" cy="611.71" r="11" fill="none" stroke="#000" stroke-width="2.6"/>
<circle cx="233.75" cy="610.07" r="11" fill="none" stroke="#000" stroke-width="2.6"/>
<circle cx="242" cy="608.61" r="11" fill="none" stroke="#000" stroke-width="2.6"/>
<circle cx="240.36" cy="606.44" r="11" fill="none" stroke="#000" stroke-width="2.6"/>
<circle cx="231.57" cy="607.44" r="11" fill="none" stroke="#000" stroke-width="2.6"/>
<circle cx="242.75" cy="608.99" r="11" fill="none" stroke="#000" stroke-width="2.6"/>
<circle cx="236.15" cy="610.1" r="11" fill="none" stroke="#000" stroke-width="2.6"/>
<circle cx="238.66" cy="608.1" r="11" fill="none" stroke="#000" stroke-width="2.6"/>
<circle cx="244.8" cy="610.89" r="11" fill="none" stroke="#000" stroke-width="2.6"/>
<circle cx="294.39" cy="609.02" r="11" fill="none" stroke="#000" stroke-width="2.6"/>
<circle cx="299.45" cy="611.13" r="11" fill="none" stroke="#000" stroke-width="2.6"/>
<circle cx="303.13" cy="607.02" r="11" fill="none" stroke="#000" stroke-width="2.6"/>
<circle cx="307.64" cy="605.83" r="11" fill="none" stroke="#000" stroke-width="2.6"/>
<circle cx="297.53" cy="610.3" r="11" fill="none" stroke="#000" stroke-width="2.6"/>
<circle cx="292.74" cy="608.42" r="11" fill="none" stroke="#000" stroke-width="2.6"/>
<circle cx="290.71" cy="609.68" r="11" fill="none" stroke="#000" stroke-width="2.6"/>
<circle cx="303.76" cy="609.01" r="11" fill="none" stroke="#000" stroke-width="2.6"/>
<circle cx="305.76" cy="607.2" r="11" fill="none" stroke="#000" stroke-width="2.6"/>
<circle cx="302.52" cy="609.16" r="11" fill="none" stroke="#000" stroke-width="2.6"/>
<circle cx="300.44" cy="608.19" r="11" fill="none" stroke="#000" stroke-width="2.6"/>
<circle cx="305.12" cy="611.61" r="11" fill="none" stroke="#000" stroke-width="2.6"/>
<circle cx="298.53" cy="609.65" r="11" fill="none" stroke="#000" stroke-width="2.6"/>
<circle cx="291.09" cy="609.91" r="11" fill="none" stroke="#000" stroke-width="2.6"/>
<circle cx="301.65" cy="611.95" r="11" fill="none" stroke="#000" stroke-width="2.6"/>
<circle cx="304.79" cy="606.99" r="11" fill="none" stroke="#000" stroke-width="2.6"/>
<circle cx="296.94" cy="609.68" r="11" fill="none" stroke="#000" stroke-width="2.6"/>
<circle cx="290.41" cy="608.23" r="11" fill="none" stroke="#000" stroke-width="2.6"/>
<circle cx="293.02" cy="605.82" r="11" fill="none" stroke="#000" stroke-width="2.6"/>
<circle cx="291.06" cy="610.38" r="11" fill="none" stroke="#000" stroke-width="2.6"/>
<circle cx="292.33" cy="606.73" r="11" fill="none" stroke="#000" stroke-width="2.6"/>
<circle cx="297.04" cy="611.1" r="11" fill="none" stroke="#000" stroke-width="2.6"/>
<text font-family='"Liberation Sans", Arial, sans-serif' font-size="40" font-weight="bold" x="134" y="684.6">3D7</text>
<text font-family='"Liberation Sans", Arial, sans-serif' font-size="40" font-weight="bold" x="216.8" y="684.6">B4</text>
<text font-family='"Liberation Sans", Arial, sans-serif' font-size="40" font-weight="bold" x="289.5" y="684.6">F6</text>
<rect x="212.4" y="696.5" width="139.2" height="3.2" fill="#000"/>
<text font-family='"Liberation Sans", Arial, sans-serif' font-size="40" font-weight="bold" font-style="italic" x="226" y="741">stk2Δ</text>
<text font-family='"Liberation Sans", Arial, sans-serif' font-size="31.4" font-weight="bold" x="161" y="197.6">p&lt;0.0001</text>
<path d="M166.6 235 V207 H286 V488.6 M221 488.6 H309.6" fill="none" stroke="#000" stroke-width="2.8"/>
</g>
<g id="pc">
<text font-family='"Liberation Sans", Arial, sans-serif' font-size="46" font-weight="bold" x="746" y="35.5">c</text>
<text font-family='"Liberation Sans", Arial, sans-serif' font-size="43.8" font-weight="bold" transform="translate(788,525.6) rotate(-90)"><tspan font-style="italic">Ap2-g</tspan> expression</text>
<rect x="910.9" y="243.7" width="37.8" height="370.9" fill="#d3d3d3" stroke="#808080" stroke-width="2.6"/>
<rect x="971.9" y="470.9" width="37.6" height="143.7" fill="#d3d3d3" stroke="#808080" stroke-width="2.6"/>
<rect x="1274.3" y="388.3" width="37.8" height="226.3" fill="#d3d3d3" stroke="#808080" stroke-width="2.6"/>
<rect x="1101" y="604" width="20" height="8" fill="#bdbdbd"/>
<rect x="1041" y="604" width="20" height="8" fill="#c8c8c8"/>
<rect x="887.1" y="65.6" width="5.8" height="550.7" fill="#000"/>
<rect x="865.6" y="65.6" width="24.4" height="6" fill="#000"/>
<rect x="876.6" y="93.23" width="13.4" height="5.2" fill="#000"/>
<rect x="876.6" y="120.47" width="13.4" height="5.2" fill="#000"/>
<rect x="876.6" y="147.71" width="13.4" height="5.2" fill="#000"/>
<rect x="876.6" y="174.94" width="13.4" height="5.2" fill="#000"/>
<text font-family='"Liberation Sans", Arial, sans-serif' font-size="40" font-weight="bold" text-anchor="end" x="858.5" y="83.2">80</text>
<rect x="865.6" y="201.77" width="24.4" height="6" fill="#000"/>
<rect x="876.6" y="229.41" width="13.4" height="5.2" fill="#000"/>
<rect x="876.6" y="256.64" width="13.4" height="5.2" fill="#000"/>
<rect x="876.6" y="283.88" width="13.4" height="5.2" fill="#000"/>
<rect x="876.6" y="311.11" width="13.4" height="5.2" fill="#000"/>
<text font-family='"Liberation Sans", Arial, sans-serif' font-size="40" font-weight="bold" text-anchor="end" x="858.5" y="219.37">60</text>
<rect x="865.6" y="337.95" width="24.4" height="6" fill="#000"/>
<rect x="876.6" y="365.58" width="13.4" height="5.2" fill="#000"/>
<rect x="876.6" y="392.82" width="13.4" height="5.2" fill="#000"/>
<rect x="876.6" y="420.05" width="13.4" height="5.2" fill="#000"/>
<rect x="876.6" y="447.29" width="13.4" height="5.2" fill="#000"/>
<text font-family='"Liberation Sans", Arial, sans-serif' font-size="40" font-weight="bold" text-anchor="end" x="858.5" y="355.55">40</text>
<rect x="865.6" y="474.12" width="24.4" height="6" fill="#000"/>
<rect x="876.6" y="501.76" width="13.4" height="5.2" fill="#000"/>
<rect x="876.6" y="529" width="13.4" height="5.2" fill="#000"/>
<rect x="876.6" y="556.23" width="13.4" height="5.2" fill="#000"/>
<rect x="876.6" y="583.46" width="13.4" height="5.2" fill="#000"/>
<text font-family='"Liberation Sans", Arial, sans-serif' font-size="40" font-weight="bold" text-anchor="end" x="858.5" y="491.73">20</text>
<text font-family='"Liberation Sans", Arial, sans-serif' font-size="40" font-weight="bold" text-anchor="end" x="858.5" y="627.9">0</text>
<rect x="865.6" y="610.3" width="472.9" height="6" fill="#000"/>
<rect x="926.9" y="613.3" width="6" height="24.1" fill="#000"/>
<rect x="987.4" y="613.3" width="6" height="24.1" fill="#000"/>
<rect x="1048" y="613.3" width="6" height="24.1" fill="#000"/>
<rect x="1108.5" y="613.3" width="6" height="24.1" fill="#000"/>
<rect x="1168.8" y="613.3" width="6" height="24.1" fill="#000"/>
<rect x="1229.4" y="613.3" width="6" height="24.1" fill="#000"/>
<rect x="1290.2" y="613.3" width="6" height="24.1" fill="#000"/>
<line x1="930" y1="146.6" x2="930" y2="242" stroke="#111" stroke-width="2.6"/>
<line x1="920" y1="146.6" x2="940" y2="146.6" stroke="#111" stroke-width="2.6"/>
<line x1="990.4" y1="438.4" x2="990.4" y2="469.6" stroke="#111" stroke-width="2.6"/>
<line x1="980.4" y1="438.4" x2="1000.4" y2="438.4" stroke="#111" stroke-width="2.6"/>
<line x1="1293.2" y1="325.4" x2="1293.2" y2="387" stroke="#111" stroke-width="2.6"/>
<line x1="1283.2" y1="325.4" x2="1303.2" y2="325.4" stroke="#111" stroke-width="2.6"/>
<circle cx="929.6" cy="112" r="14.3" fill="none" stroke="#000" stroke-width="2.5"/>
<circle cx="929.6" cy="184" r="14.3" fill="none" stroke="#000" stroke-width="2.5"/>
<circle cx="929.6" cy="427.4" r="14.3" fill="none" stroke="#000" stroke-width="2.5"/>
<circle cx="990.4" cy="349.4" r="14.3" fill="none" stroke="#000" stroke-width="2.5"/>
<circle cx="990.4" cy="383" r="14.3" fill="none" stroke="#000" stroke-width="2.5"/>
<circle cx="990.4" cy="441" r="14.3" fill="none" stroke="#000" stroke-width="2.5"/>
<circle cx="988" cy="513" r="14.3" fill="none" stroke="#000" stroke-width="2.5"/>
<circle cx="983" cy="530.6" r="14.3" fill="none" stroke="#000" stroke-width="2.5"/>
<circle cx="990" cy="530" r="14.3" fill="none" stroke="#000" stroke-width="2.5"/>
<circle cx="996" cy="526" r="14.3" fill="none" stroke="#000" stroke-width="2.5"/>
<circle cx="1293" cy="282.4" r="14.3" fill="none" stroke="#000" stroke-width="2.5"/>
<circle cx="1293" cy="381.4" r="14.3" fill="none" stroke="#000" stroke-width="2.5"/>
<circle cx="1293" cy="492" r="14.3" fill="none" stroke="#000" stroke-width="2.5"/>
<circle cx="1050.4" cy="574" r="14" fill="none" stroke="#000" stroke-width="3.4"/>
<circle cx="1045" cy="600" r="14" fill="none" stroke="#000" stroke-width="2"/>
<circle cx="1052" cy="602" r="14" fill="none" stroke="#000" stroke-width="2"/>
<circle cx="1057" cy="606" r="14" fill="none" stroke="#000" stroke-width="2"/>
<circle cx="1047" cy="609" r="14" fill="none" stroke="#000" stroke-width="2"/>
<circle cx="1050" cy="612" r="14" fill="none" stroke="#000" stroke-width="2"/>
<circle cx="1054" cy="598" r="14" fill="none" stroke="#000" stroke-width="2"/>
<circle cx="1049" cy="604" r="14" fill="none" stroke="#000" stroke-width="2"/>
<circle cx="1056" cy="610" r="14" fill="none" stroke="#000" stroke-width="2"/>
<circle cx="1044" cy="606" r="14" fill="none" stroke="#000" stroke-width="2"/>
<circle cx="1051" cy="607" r="14" fill="none" stroke="#000" stroke-width="2"/>
<circle cx="1106" cy="604" r="14" fill="none" stroke="#000" stroke-width="2.2"/>
<circle cx="1111" cy="606" r="14" fill="none" stroke="#000" stroke-width="2.2"/>
<circle cx="1116" cy="605" r="14" fill="none" stroke="#000" stroke-width="2.2"/>
<circle cx="1109" cy="603" r="14" fill="none" stroke="#000" stroke-width="2.2"/>
<circle cx="1113" cy="607" r="14" fill="none" stroke="#000" stroke-width="2.2"/>
<circle cx="1104" cy="606" r="14" fill="none" stroke="#000" stroke-width="2.2"/>
<circle cx="1118" cy="606" r="14" fill="none" stroke="#000" stroke-width="2.2"/>
<circle cx="1110" cy="605" r="14" fill="none" stroke="#000" stroke-width="2.2"/>
<circle cx="1112" cy="604" r="14" fill="none" stroke="#000" stroke-width="2.2"/>
<circle cx="1107" cy="607" r="14" fill="none" stroke="#000" stroke-width="2.2"/>
<circle cx="1115" cy="603" r="14" fill="none" stroke="#000" stroke-width="2.2"/>
<circle cx="1166" cy="608" r="14" fill="none" stroke="#000" stroke-width="2"/>
<circle cx="1171" cy="606" r="14" fill="none" stroke="#000" stroke-width="2"/>
<circle cx="1176" cy="608" r="14" fill="none" stroke="#000" stroke-width="2"/>
<circle cx="1172" cy="609" r="14" fill="none" stroke="#000" stroke-width="2"/>
<circle cx="1169" cy="607" r="14" fill="none" stroke="#000" stroke-width="2"/>
<circle cx="1174" cy="606" r="14" fill="none" stroke="#000" stroke-width="2"/>
<circle cx="1178" cy="608" r="14" fill="none" stroke="#000" stroke-width="2"/>
<circle cx="1227" cy="608" r="14" fill="none" stroke="#000" stroke-width="2"/>
<circle cx="1232" cy="604" r="14" fill="none" stroke="#000" stroke-width="2"/>
<circle cx="1238" cy="606" r="14" fill="none" stroke="#000" stroke-width="2"/>
<circle cx="1233" cy="608" r="14" fill="none" stroke="#000" stroke-width="2"/>
<circle cx="1230" cy="606" r="14" fill="none" stroke="#000" stroke-width="2"/>
<text font-family='"Liberation Sans", Arial, sans-serif' font-size="31.4" font-weight="bold" x="971" y="191">p&lt;0.0001</text>
<path d="M976.6 241 V212.4 H1115 V504 M1044 504 H1177.6" fill="none" stroke="#9a9a9a" stroke-width="2.6"/>
<text font-family='"Liberation Sans", Arial, sans-serif' font-size="40.4" font-weight="bold" text-anchor="end" textLength="96.5" lengthAdjust="spacingAndGlyphs" transform="translate(941.3,640.6) rotate(-90)">NF54</text>
<text font-family='"Liberation Sans", Arial, sans-serif' font-size="40.4" font-weight="bold" text-anchor="end" textLength="72.5" lengthAdjust="spacingAndGlyphs" transform="translate(1005.2,641.8) rotate(-90)">3D7</text>
<text font-family='"Liberation Sans", Arial, sans-serif' font-size="40" font-weight="bold" text-anchor="end" textLength="49.6" lengthAdjust="spacingAndGlyphs" transform="translate(1062.2,640.8) rotate(-90)">B4</text>
<text font-family='"Liberation Sans", Arial, sans-serif' font-size="40" font-weight="bold" text-anchor="end" textLength="45.6" lengthAdjust="spacingAndGlyphs" transform="translate(1128,640.8) rotate(-90)">F6</text>
<text font-family='"Liberation Sans", Arial, sans-serif' font-size="40" font-weight="bold" text-anchor="end" transform="translate(1190.2,640.8) rotate(-90)">F12</text>
<text font-family='"Liberation Sans", Arial, sans-serif' font-size="36.6" font-weight="bold" text-anchor="end" textLength="143.5" lengthAdjust="spacingAndGlyphs" transform="translate(1239.2,641.2) rotate(-90)">GDV1 (-)</text>
<text font-family='"Liberation Sans", Arial, sans-serif' font-size="36.6" font-weight="bold" text-anchor="end" textLength="153.5" lengthAdjust="spacingAndGlyphs" transform="translate(1303.3,640.2) rotate(-90)">GDV1 (+)</text>
<rect x="1021" y="696.5" width="115.3" height="3.2" fill="#000"/>
<text font-family='"Liberation Sans", Arial, sans-serif' font-size="40" font-weight="bold" font-style="italic" x="1029" y="740">stk2Δ</text>
</g>
<g id="pd">
<text font-family='"Liberation Sans", Arial, sans-serif' font-size="46" font-weight="bold" x="1348" y="35.5">d</text>
<text font-family='"Liberation Sans", Arial, sans-serif' font-size="43.6" font-weight="bold" transform="translate(1389,467.5) rotate(-90)">D6-GCR (%)</text>
<rect x="1511.2" y="430.4" width="34.4" height="184.8" fill="#d3d3d3" stroke="#1a1a1a" stroke-width="2.4"/>
<rect x="1568.4" y="495.1" width="34.4" height="120.1" fill="#d3d3d3" stroke="#1a1a1a" stroke-width="2.4"/>
<rect x="1624.8" y="405.8" width="34.2" height="209.4" fill="#d3d3d3" stroke="#1a1a1a" stroke-width="2.4"/>
<rect x="1680.9" y="422.2" width="34.8" height="193" fill="#d3d3d3" stroke="#1a1a1a" stroke-width="2.4"/>
<rect x="1737.7" y="363.7" width="34.3" height="251.5" fill="#d3d3d3" stroke="#1a1a1a" stroke-width="2.4"/>
<rect x="1794.4" y="426.4" width="34.8" height="188.8" fill="#d3d3d3" stroke="#1a1a1a" stroke-width="2.4"/>
<rect x="1851.6" y="392.7" width="34.4" height="222.5" fill="#d3d3d3" stroke="#1a1a1a" stroke-width="2.4"/>
<rect x="1487.6" y="66.5" width="5.8" height="550.5" fill="#000"/>
<rect x="1467" y="66.5" width="23.5" height="6" fill="#000"/>
<rect x="1477" y="94.12" width="13.5" height="5.2" fill="#000"/>
<rect x="1477" y="121.35" width="13.5" height="5.2" fill="#000"/>
<rect x="1477" y="148.58" width="13.5" height="5.2" fill="#000"/>
<rect x="1477" y="175.8" width="13.5" height="5.2" fill="#000"/>
<text font-family='"Liberation Sans", Arial, sans-serif' font-size="40" font-weight="bold" text-anchor="end" x="1461" y="84.1">20</text>
<rect x="1467" y="202.62" width="23.5" height="6" fill="#000"/>
<rect x="1477" y="230.25" width="13.5" height="5.2" fill="#000"/>
<rect x="1477" y="257.47" width="13.5" height="5.2" fill="#000"/>
<rect x="1477" y="284.7" width="13.5" height="5.2" fill="#000"/>
<rect x="1477" y="311.92" width="13.5" height="5.2" fill="#000"/>
<text font-family='"Liberation Sans", Arial, sans-serif' font-size="40" font-weight="bold" text-anchor="end" x="1461" y="220.22">15</text>
<rect x="1467" y="338.75" width="23.5" height="6" fill="#000"/>
<rect x="1477" y="366.38" width="13.5" height="5.2" fill="#000"/>
<rect x="1477" y="393.6" width="13.5" height="5.2" fill="#000"/>
<rect x="1477" y="420.82" width="13.5" height="5.2" fill="#000"/>
<rect x="1477" y="448.05" width="13.5" height="5.2" fill="#000"/>
<text font-family='"Liberation Sans", Arial, sans-serif' font-size="40" font-weight="bold" text-anchor="end" x="1461" y="356.35">10</text>
<rect x="1467" y="474.88" width="23.5" height="6" fill="#000"/>
<rect x="1477" y="502.5" width="13.5" height="5.2" fill="#000"/>
<rect x="1477" y="529.73" width="13.5" height="5.2" fill="#000"/>
<rect x="1477" y="556.95" width="13.5" height="5.2" fill="#000"/>
<rect x="1477" y="584.17" width="13.5" height="5.2" fill="#000"/>
<text font-family='"Liberation Sans", Arial, sans-serif' font-size="40" font-weight="bold" text-anchor="end" x="1461" y="492.48">5</text>
<text font-family='"Liberation Sans", Arial, sans-serif' font-size="40" font-weight="bold" text-anchor="end" x="1461" y="628.6">0</text>
<rect x="1467" y="611" width="445.4" height="6" fill="#000"/>
<rect x="1525.8" y="614" width="6" height="24" fill="#000"/>
<rect x="1582.7" y="614" width="6" height="24" fill="#000"/>
<rect x="1638.9" y="614" width="6" height="24" fill="#000"/>
<rect x="1695.6" y="614" width="6" height="24" fill="#000"/>
<rect x="1752.4" y="614" width="6" height="24" fill="#000"/>
<rect x="1808.7" y="614" width="6" height="24" fill="#000"/>
<rect x="1865.5" y="614" width="6" height="24" fill="#000"/>
<line x1="1528.8" y1="410" x2="1528.8" y2="429" stroke="#111" stroke-width="2.6"/>
<line x1="1519.8" y1="410" x2="1537.8" y2="410" stroke="#111" stroke-width="2.6"/>
<line x1="1585.7" y1="464.5" x2="1585.7" y2="494" stroke="#111" stroke-width="2.6"/>
<line x1="1576.7" y1="464.5" x2="1594.7" y2="464.5" stroke="#111" stroke-width="2.6"/>
<line x1="1642" y1="374" x2="1642" y2="405" stroke="#111" stroke-width="2.6"/>
<line x1="1633" y1="374" x2="1651" y2="374" stroke="#111" stroke-width="2.6"/>
<line x1="1698.6" y1="388.2" x2="1698.6" y2="421" stroke="#111" stroke-width="2.6"/>
<line x1="1689.6" y1="388.2" x2="1707.6" y2="388.2" stroke="#111" stroke-width="2.6"/>
<line x1="1755.4" y1="335.2" x2="1755.4" y2="363" stroke="#111" stroke-width="2.6"/>
<line x1="1746.4" y1="335.2" x2="1764.4" y2="335.2" stroke="#111" stroke-width="2.6"/>
<line x1="1811.7" y1="381" x2="1811.7" y2="425" stroke="#111" stroke-width="2.6"/>
<line x1="1802.7" y1="381" x2="1820.7" y2="381" stroke="#111" stroke-width="2.6"/>
<line x1="1868.5" y1="377" x2="1868.5" y2="392" stroke="#111" stroke-width="2.6"/>
<line x1="1859.5" y1="377" x2="1877.5" y2="377" stroke="#111" stroke-width="2.6"/>
<circle cx="1528.35" cy="313.54" r="11.2" fill="none" stroke="#000" stroke-width="2.3"/>
<circle cx="1524.57" cy="407.09" r="11.2" fill="none" stroke="#000" stroke-width="2.3"/>
<circle cx="1531.5" cy="415.71" r="11.2" fill="none" stroke="#000" stroke-width="2.3"/>
<circle cx="1528.35" cy="419.28" r="11.2" fill="none" stroke="#000" stroke-width="2.3"/>
<circle cx="1520.99" cy="451.87" r="11.2" fill="none" stroke="#000" stroke-width="2.3"/>
<circle cx="1529.4" cy="449.34" r="11.2" fill="none" stroke="#000" stroke-width="2.3"/>
<circle cx="1536.34" cy="452.92" r="11.2" fill="none" stroke="#000" stroke-width="2.3"/>
<circle cx="1532.55" cy="464.06" r="11.2" fill="none" stroke="#000" stroke-width="2.3"/>
<circle cx="1524.78" cy="486.55" r="11.2" fill="none" stroke="#000" stroke-width="2.3"/>
<circle cx="1585.11" cy="311.02" r="11.2" fill="none" stroke="#000" stroke-width="2.3"/>
<circle cx="1585.11" cy="412.98" r="11.2" fill="none" stroke="#000" stroke-width="2.3"/>
<circle cx="1585.11" cy="443.46" r="11.2" fill="none" stroke="#000" stroke-width="2.3"/>
<circle cx="1585.11" cy="520.82" r="11.2" fill="none" stroke="#000" stroke-width="2.3"/>
<circle cx="1593.52" cy="528.6" r="11.2" fill="none" stroke="#000" stroke-width="2.3"/>
<circle cx="1577.75" cy="534.9" r="11.2" fill="none" stroke="#000" stroke-width="2.3"/>
<circle cx="1585.11" cy="553.82" r="11.2" fill="none" stroke="#000" stroke-width="2.3"/>
<circle cx="1593.52" cy="558.03" r="11.2" fill="none" stroke="#000" stroke-width="2.3"/>
<circle cx="1577.75" cy="577.58" r="11.2" fill="none" stroke="#000" stroke-width="2.3"/>
<circle cx="1634.51" cy="317.33" r="11.2" fill="none" stroke="#000" stroke-width="2.3"/>
<circle cx="1641.87" cy="321.53" r="11.2" fill="none" stroke="#000" stroke-width="2.3"/>
<circle cx="1649.85" cy="419.28" r="11.2" fill="none" stroke="#000" stroke-width="2.3"/>
<circle cx="1634.51" cy="434" r="11.2" fill="none" stroke="#000" stroke-width="2.3"/>
<circle cx="1641.87" cy="439.67" r="11.2" fill="none" stroke="#000" stroke-width="2.3"/>
<circle cx="1641.87" cy="474.99" r="11.2" fill="none" stroke="#000" stroke-width="2.3"/>
<circle cx="1649.85" cy="484.45" r="11.2" fill="none" stroke="#000" stroke-width="2.3"/>
<circle cx="1634.51" cy="505.47" r="11.2" fill="none" stroke="#000" stroke-width="2.3"/>
<circle cx="1690.85" cy="300.51" r="11.2" fill="none" stroke="#000" stroke-width="2.3"/>
<circle cx="1705.98" cy="316.28" r="11.2" fill="none" stroke="#000" stroke-width="2.3"/>
<circle cx="1705.98" cy="443.46" r="11.2" fill="none" stroke="#000" stroke-width="2.3"/>
<circle cx="1690.85" cy="464.48" r="11.2" fill="none" stroke="#000" stroke-width="2.3"/>
<circle cx="1705.98" cy="468.26" r="11.2" fill="none" stroke="#000" stroke-width="2.3"/>
<circle cx="1690.85" cy="491.81" r="11.2" fill="none" stroke="#000" stroke-width="2.3"/>
<circle cx="1705.98" cy="498.75" r="11.2" fill="none" stroke="#000" stroke-width="2.3"/>
<circle cx="1698.63" cy="525.86" r="11.2" fill="none" stroke="#000" stroke-width="2.3"/>
<circle cx="1747.4" cy="324.06" r="11.2" fill="none" stroke="#000" stroke-width="2.3"/>
<circle cx="1763.16" cy="326.16" r="11.2" fill="none" stroke="#000" stroke-width="2.3"/>
<circle cx="1754.96" cy="358.74" r="11.2" fill="none" stroke="#000" stroke-width="2.3"/>
<circle cx="1747.4" cy="415.5" r="11.2" fill="none" stroke="#000" stroke-width="2.3"/>
<circle cx="1763.16" cy="411.93" r="11.2" fill="none" stroke="#000" stroke-width="2.3"/>
<circle cx="1747.4" cy="453.34" r="11.2" fill="none" stroke="#000" stroke-width="2.3"/>
<circle cx="1763.16" cy="452.92" r="11.2" fill="none" stroke="#000" stroke-width="2.3"/>
<circle cx="1811.72" cy="366.73" r="11.2" fill="none" stroke="#000" stroke-width="2.3"/>
<circle cx="1804.36" cy="482.35" r="11.2" fill="none" stroke="#000" stroke-width="2.3"/>
<circle cx="1818.87" cy="485.92" r="11.2" fill="none" stroke="#000" stroke-width="2.3"/>
<circle cx="1811.72" cy="493.91" r="11.2" fill="none" stroke="#000" stroke-width="2.3"/>
<circle cx="1811.72" cy="522.92" r="11.2" fill="none" stroke="#000" stroke-width="2.3"/>
<circle cx="1804.36" cy="528.6" r="11.2" fill="none" stroke="#000" stroke-width="2.3"/>
<circle cx="1819.5" cy="526.49" r="11.2" fill="none" stroke="#000" stroke-width="2.3"/>
<circle cx="1868.48" cy="341.08" r="11.2" fill="none" stroke="#000" stroke-width="2.3"/>
<circle cx="1865.75" cy="350.96" r="11.2" fill="none" stroke="#000" stroke-width="2.3"/>
<circle cx="1871.42" cy="353.06" r="11.2" fill="none" stroke="#000" stroke-width="2.3"/>
<circle cx="1865.75" cy="369.46" r="11.2" fill="none" stroke="#000" stroke-width="2.3"/>
<circle cx="1871.42" cy="373.04" r="11.2" fill="none" stroke="#000" stroke-width="2.3"/>
<circle cx="1861.54" cy="417.6" r="11.2" fill="none" stroke="#000" stroke-width="2.3"/>
<circle cx="1868.48" cy="417.6" r="11.2" fill="none" stroke="#000" stroke-width="2.3"/>
<circle cx="1876.26" cy="417.6" r="11.2" fill="none" stroke="#000" stroke-width="2.3"/>
<circle cx="1868.48" cy="480.88" r="11.2" fill="none" stroke="#000" stroke-width="2.3"/>
<circle cx="1641.6" cy="240" r="11.2" fill="none" stroke="#000" stroke-width="2.3"/>
<circle cx="1747.6" cy="244" r="11.2" fill="none" stroke="#000" stroke-width="2.3"/>
<circle cx="1762.4" cy="267" r="11.2" fill="none" stroke="#000" stroke-width="2.3"/>
<circle cx="1804.4" cy="199" r="11.2" fill="none" stroke="#000" stroke-width="2.3"/>
<circle cx="1811.6" cy="220" r="11.2" fill="none" stroke="#000" stroke-width="2.3"/>
<text font-family='"Liberation Sans", Arial, sans-serif' font-size="31.4" font-weight="bold" x="1562.5" y="55">p&gt;0.99</text>
<path d="M1523 195 V63 H1743 V94 M1575 94 H1876" fill="none" stroke="#000" stroke-width="2.8"/>
<text font-family='"Liberation Sans", Arial, sans-serif' font-size="31.4" font-weight="bold" x="1547.5" y="140">p=0.88</text>
<path d="M1582.6 173.6 V145 H1650.4 V173.6" fill="none" stroke="#000" stroke-width="2.8"/>
<text font-family='"Liberation Sans", Arial, sans-serif' font-size="31.4" font-weight="bold" x="1683.5" y="140">&gt;0.99</text>
<path d="M1680.6 171.4 V143 H1754.6 V171.4" fill="none" stroke="#000" stroke-width="2.8"/>
<text font-family='"Liberation Sans", Arial, sans-serif' font-size="31.4" font-weight="bold" x="1801.5" y="140">&gt;0.99</text>
<path d="M1809 172.4 V144.4 H1869 V172.4" fill="none" stroke="#000" stroke-width="2.8"/>
<text font-family='"Liberation Sans", Arial, sans-serif' font-size="40.4" font-weight="bold" text-anchor="end" textLength="96" lengthAdjust="spacingAndGlyphs" transform="translate(1542.4,649.6) rotate(-90)">NF54</text>
<text font-family='"Liberation Sans", Arial, sans-serif' font-size="40" font-weight="bold" text-anchor="middle" x="1585.7" y="675">(+)</text>
<text font-family='"Liberation Sans", Arial, sans-serif' font-size="40" font-weight="bold" text-anchor="middle" x="1640.2" y="675">(-)</text>
<text font-family='"Liberation Sans", Arial, sans-serif' font-size="40" font-weight="bold" text-anchor="middle" x="1703" y="675">(+)</text>
<text font-family='"Liberation Sans", Arial, sans-serif' font-size="40" font-weight="bold" text-anchor="middle" x="1757" y="675">(-)</text>
<text font-family='"Liberation Sans", Arial, sans-serif' font-size="40" font-weight="bold" text-anchor="middle" x="1816.8" y="675">(+)</text>
<text font-family='"Liberation Sans", Arial, sans-serif' font-size="40" font-weight="bold" text-anchor="middle" x="1871" y="675">(-)</text>
<rect x="1572" y="694.6" width="81.5" height="3" fill="#000"/>
<rect x="1683.5" y="694.6" width="81.2" height="3" fill="#000"/>
<rect x="1794" y="694.6" width="80.7" height="3" fill="#000"/>
<text font-family='"Liberation Sans", Arial, sans-serif' font-size="40.6" font-weight="bold" text-anchor="middle" x="1616.5" y="733.6">A</text>
<text font-family='"Liberation Sans", Arial, sans-serif' font-size="40.6" font-weight="bold" text-anchor="middle" x="1728" y="733.6">B</text>
<text font-family='"Liberation Sans", Arial, sans-serif' font-size="40.6" font-weight="bold" text-anchor="middle" x="1838.5" y="733.6">C</text>
<rect x="1567.7" y="742.8" width="331" height="3.2" fill="#000"/>
<text font-family='"Liberation Sans", Arial, sans-serif' font-size="40.1" font-weight="bold" font-style="italic" x="1596.5" y="781.4">stk2.gfp.fkbp</text>
</g>
<g id="pe">
<text font-family='"Liberation Sans", Arial, sans-serif' font-size="46" font-weight="bold" x="9" y="844">e</text>
<text font-family='"Liberation Sans", Arial, sans-serif' font-size="43.2" font-weight="bold" transform="translate(43,1303) rotate(-90)">D6-GCR (%)</text>
<rect x="164.2" y="1268.7" width="33.3" height="184.5" fill="#d3d3d3" stroke="#1a1a1a" stroke-width="2.4"/>
<rect x="219.8" y="1232.6" width="33" height="220.6" fill="#d3d3d3" stroke="#1a1a1a" stroke-width="2.4"/>
<rect x="276" y="1304.1" width="32.8" height="149.1" fill="#d3d3d3" stroke="#1a1a1a" stroke-width="2.4"/>
<rect x="331.7" y="1215.2" width="32.9" height="238" fill="#d3d3d3" stroke="#1a1a1a" stroke-width="2.4"/>
<rect x="141.3" y="905.3" width="5.8" height="549.7" fill="#000"/>
<rect x="119.8" y="905.3" width="24.4" height="6" fill="#000"/>
<rect x="130.3" y="932.88" width="13.9" height="5.2" fill="#000"/>
<rect x="130.3" y="960.07" width="13.9" height="5.2" fill="#000"/>
<rect x="130.3" y="987.25" width="13.9" height="5.2" fill="#000"/>
<rect x="130.3" y="1014.44" width="13.9" height="5.2" fill="#000"/>
<text font-family='"Liberation Sans", Arial, sans-serif' font-size="40" font-weight="bold" text-anchor="end" x="115" y="922.9">20</text>
<rect x="119.8" y="1041.22" width="24.4" height="6" fill="#000"/>
<rect x="130.3" y="1068.81" width="13.9" height="5.2" fill="#000"/>
<rect x="130.3" y="1095.99" width="13.9" height="5.2" fill="#000"/>
<rect x="130.3" y="1123.18" width="13.9" height="5.2" fill="#000"/>
<rect x="130.3" y="1150.37" width="13.9" height="5.2" fill="#000"/>
<text font-family='"Liberation Sans", Arial, sans-serif' font-size="40" font-weight="bold" text-anchor="end" x="115" y="1058.82">15</text>
<rect x="119.8" y="1177.15" width="24.4" height="6" fill="#000"/>
<rect x="130.3" y="1204.74" width="13.9" height="5.2" fill="#000"/>
<rect x="130.3" y="1231.92" width="13.9" height="5.2" fill="#000"/>
<rect x="130.3" y="1259.11" width="13.9" height="5.2" fill="#000"/>
<rect x="130.3" y="1286.29" width="13.9" height="5.2" fill="#000"/>
<text font-family='"Liberation Sans", Arial, sans-serif' font-size="40" font-weight="bold" text-anchor="end" x="115" y="1194.75">10</text>
<rect x="119.8" y="1313.08" width="24.4" height="6" fill="#000"/>
<rect x="130.3" y="1340.66" width="13.9" height="5.2" fill="#000"/>
<rect x="130.3" y="1367.85" width="13.9" height="5.2" fill="#000"/>
<rect x="130.3" y="1395.03" width="13.9" height="5.2" fill="#000"/>
<rect x="130.3" y="1422.22" width="13.9" height="5.2" fill="#000"/>
<text font-family='"Liberation Sans", Arial, sans-serif' font-size="40" font-weight="bold" text-anchor="end" x="115" y="1330.67">5</text>
<text font-family='"Liberation Sans", Arial, sans-serif' font-size="40" font-weight="bold" text-anchor="end" x="115" y="1466.6">0</text>
<rect x="119.8" y="1449" width="269.5" height="6" fill="#000"/>
<rect x="178.2" y="1452" width="6" height="24.7" fill="#000"/>
<rect x="233.5" y="1452" width="6" height="24.7" fill="#000"/>
<rect x="289.8" y="1452" width="6" height="24.7" fill="#000"/>
<rect x="344.9" y="1452" width="6" height="24.7" fill="#000"/>
<line x1="181.2" y1="1252" x2="181.2" y2="1268" stroke="#111" stroke-width="2.6"/>
<line x1="172.2" y1="1252" x2="190.2" y2="1252" stroke="#111" stroke-width="2.6"/>
<line x1="236.5" y1="1213" x2="236.5" y2="1232" stroke="#111" stroke-width="2.6"/>
<line x1="227.5" y1="1213" x2="245.5" y2="1213" stroke="#111" stroke-width="2.6"/>
<line x1="292.8" y1="1289" x2="292.8" y2="1303" stroke="#111" stroke-width="2.6"/>
<line x1="283.8" y1="1289" x2="301.8" y2="1289" stroke="#111" stroke-width="2.6"/>
<line x1="348" y1="1185" x2="348" y2="1214" stroke="#111" stroke-width="2.6"/>
<line x1="339" y1="1185" x2="357" y2="1185" stroke="#111" stroke-width="2.6"/>
<circle cx="180.79" cy="1151.5" r="11.2" fill="none" stroke="#000" stroke-width="2.3"/>
<circle cx="177.63" cy="1244.63" r="11.2" fill="none" stroke="#000" stroke-width="2.3"/>
<circle cx="184.57" cy="1253.04" r="11.2" fill="none" stroke="#000" stroke-width="2.3"/>
<circle cx="181.21" cy="1257.66" r="11.2" fill="none" stroke="#000" stroke-width="2.3"/>
<circle cx="174.48" cy="1289.19" r="11.2" fill="none" stroke="#000" stroke-width="2.3"/>
<circle cx="181.21" cy="1288.14" r="11.2" fill="none" stroke="#000" stroke-width="2.3"/>
<circle cx="188.14" cy="1291.3" r="11.2" fill="none" stroke="#000" stroke-width="2.3"/>
<circle cx="183.94" cy="1301.81" r="11.2" fill="none" stroke="#000" stroke-width="2.3"/>
<circle cx="177.63" cy="1323.88" r="11.2" fill="none" stroke="#000" stroke-width="2.3"/>
<circle cx="236.49" cy="1191.44" r="11.2" fill="none" stroke="#000" stroke-width="2.3"/>
<circle cx="235.02" cy="1196.7" r="11.2" fill="none" stroke="#000" stroke-width="2.3"/>
<circle cx="239.65" cy="1201.96" r="11.2" fill="none" stroke="#000" stroke-width="2.3"/>
<circle cx="233.34" cy="1192.5" r="11.2" fill="none" stroke="#000" stroke-width="2.3"/>
<circle cx="236.49" cy="1228.65" r="11.2" fill="none" stroke="#000" stroke-width="2.3"/>
<circle cx="236.49" cy="1315.47" r="11.2" fill="none" stroke="#000" stroke-width="2.3"/>
<circle cx="243.85" cy="1324.51" r="11.2" fill="none" stroke="#000" stroke-width="2.3"/>
<circle cx="229.56" cy="1333.76" r="11.2" fill="none" stroke="#000" stroke-width="2.3"/>
<circle cx="292.2" cy="1227.81" r="11.2" fill="none" stroke="#000" stroke-width="2.3"/>
<circle cx="294.3" cy="1270.28" r="11.2" fill="none" stroke="#000" stroke-width="2.3"/>
<circle cx="290.1" cy="1280.79" r="11.2" fill="none" stroke="#000" stroke-width="2.3"/>
<circle cx="292.2" cy="1286.04" r="11.2" fill="none" stroke="#000" stroke-width="2.3"/>
<circle cx="292.2" cy="1313.37" r="11.2" fill="none" stroke="#000" stroke-width="2.3"/>
<circle cx="298.51" cy="1314.42" r="11.2" fill="none" stroke="#000" stroke-width="2.3"/>
<circle cx="294.3" cy="1322.83" r="11.2" fill="none" stroke="#000" stroke-width="2.3"/>
<circle cx="285.47" cy="1328.72" r="11.2" fill="none" stroke="#000" stroke-width="2.3"/>
<circle cx="292.2" cy="1375.8" r="11.2" fill="none" stroke="#000" stroke-width="2.3"/>
<circle cx="347.91" cy="1147.93" r="11.2" fill="none" stroke="#000" stroke-width="2.3"/>
<circle cx="347.91" cy="1185.14" r="11.2" fill="none" stroke="#000" stroke-width="2.3"/>
<circle cx="344.76" cy="1266.07" r="11.2" fill="none" stroke="#000" stroke-width="2.3"/>
<circle cx="351.06" cy="1276.16" r="11.2" fill="none" stroke="#000" stroke-width="2.3"/>
<circle cx="347.91" cy="1309.17" r="11.2" fill="none" stroke="#000" stroke-width="2.3"/>
<circle cx="355.27" cy="1309.59" r="11.2" fill="none" stroke="#000" stroke-width="2.3"/>
<circle cx="340.55" cy="1322.41" r="11.2" fill="none" stroke="#000" stroke-width="2.3"/>
<circle cx="348" cy="1009.6" r="11.2" fill="none" stroke="#000" stroke-width="2.3"/>
<circle cx="236.5" cy="1089.7" r="11.2" fill="none" stroke="#000" stroke-width="2.3"/>
<circle cx="348" cy="1087.6" r="11.2" fill="none" stroke="#000" stroke-width="2.3"/>
<text font-family='"Liberation Sans", Arial, sans-serif' font-size="31.4" font-weight="bold" x="184" y="865.2">p=0.1642</text>
<path d="M180.4 930.5 V878.8 H290.7 V930.8 M212.3 930.8 H352.1" fill="none" stroke="#000" stroke-width="2.6"/>
<text font-family='"Liberation Sans", Arial, sans-serif' font-size="40.4" font-weight="bold" text-anchor="end" textLength="96" lengthAdjust="spacingAndGlyphs" transform="translate(193,1492) rotate(-90)">NF54</text>
<text font-family='"Liberation Sans", Arial, sans-serif' font-size="40.4" font-weight="bold" text-anchor="middle" x="239" y="1518.8">D</text>
<text font-family='"Liberation Sans", Arial, sans-serif' font-size="40.4" font-weight="bold" text-anchor="middle" x="296" y="1515.8">E</text>
<text font-family='"Liberation Sans", Arial, sans-serif' font-size="40.4" font-weight="bold" text-anchor="middle" x="351.5" y="1515.8">F</text>
<rect x="211.3" y="1525.7" width="172.7" height="3.2" fill="#000"/>
<text font-family='"Liberation Sans", Arial, sans-serif' font-size="40" font-weight="bold" font-style="italic" x="237.5" y="1569.4">stk2Δ</text>
</g>
</svg></body></html>
